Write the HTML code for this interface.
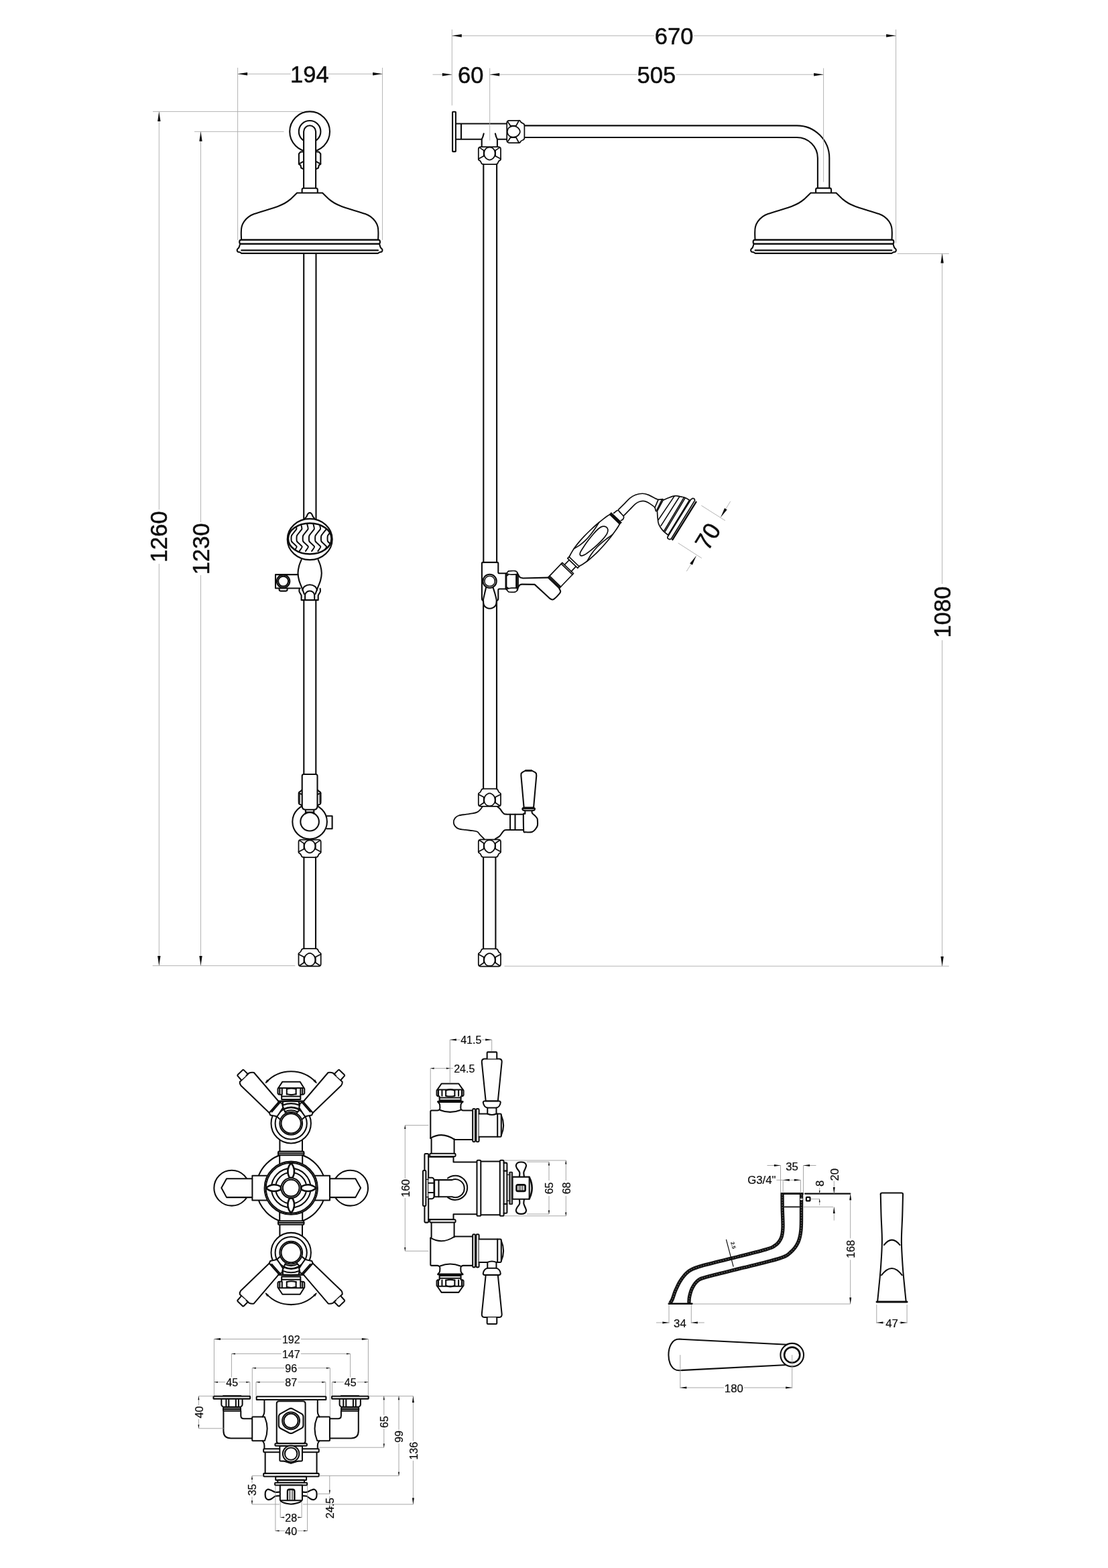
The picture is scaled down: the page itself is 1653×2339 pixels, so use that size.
<!DOCTYPE html>
<html lang="en">
<head>
<meta charset="utf-8">
<title>Shower set technical drawing</title>
<style>
html,body{margin:0;padding:0;background:#fff;}
body{width:1653px;height:2339px;overflow:hidden;}
svg{display:block;}

.k{fill:none;stroke:#0d0d0d;stroke-width:2.1;stroke-linejoin:round;stroke-linecap:round;}
.kw{fill:#fff;stroke:#0d0d0d;stroke-width:2.1;stroke-linejoin:round;stroke-linecap:round;}
.s{fill:none;stroke:#0d0d0d;stroke-width:2.05;stroke-linejoin:round;stroke-linecap:round;}
.sw{fill:#fff;stroke:#0d0d0d;stroke-width:2.05;stroke-linejoin:round;stroke-linecap:round;}
.n{fill:none;stroke:#0d0d0d;stroke-width:1.1;stroke-linejoin:round;stroke-linecap:round;}
.t{fill:none;stroke:#ababab;stroke-width:0.9;}
.u{fill:none;stroke:#909090;stroke-width:0.8;}
.a{fill:#0d0d0d;stroke:none;}
.w{fill:#fff;stroke:none;}
.hs .k,.hs .kw{stroke-width:1.7}
.nt .k,.nt .kw{stroke-width:1.75}
.vb{stroke-width:1.8 !important}
text{font-family:"Liberation Sans",sans-serif;fill:#0d0d0d;}
svg{filter:grayscale(1);}

</style>
</head>
<body>
<svg width="1653" height="2339" viewBox="0 0 1653 2339">
<circle class="kw" cx="462.1" cy="196.3" r="29.9"/>
<circle class="kw" cx="462.1" cy="196.3" r="16.3"/>
<path class="k" d="M453.1 226.3 L448.3 226.6 L445.9 229.5 L445.9 244.6 L448.4 246.6 L449.3 250.5 L453.1 252.4"/>
<path class="k" d="M471.1 226.3 L475.9 226.6 L478.3 229.5 L478.3 244.6 L475.8 246.6 L474.9 250.5 L471.1 252.4"/>
<path class="k" d="M445.9 244.6 L453.1 240.6"/>
<path class="k" d="M478.3 244.6 L471.1 240.6"/>
<path class="kw" d="M453.1 280.6 L453.1 196.3 A9 9 0 0 1 471.1 196.3 L471.1 280.6"/>
<path class="kw" d="M450.6 287.6 L450.6 283 Q450.6 280.8 453 280.8 L471.2 280.8 Q473.8 280.8 473.8 283 L473.8 287.6"/>
<path class="kw" d="M360.1 357.9 C360.05 356.1 359.72 350.37 359.8 347.1 C359.88 343.83 359.87 341.1 360.6 338.3 C361.33 335.5 362.4 332.83 364.2 330.3 C366 327.77 368.87 324.97 371.4 323.1 C373.93 321.23 374.45 320.92 379.4 319.1 C384.35 317.28 395.08 314.15 401.1 312.2 C407.12 310.25 411.5 308.93 415.5 307.4 C419.5 305.87 422.17 304.67 425.1 303 C428.03 301.33 430.1 299.93 433.1 297.4 C436.1 294.87 441.43 289.4 443.1 287.8 L481.1 287.8 L481.1 287.8 C482.77 289.4 488.1 294.87 491.1 297.4 C494.1 299.93 496.17 301.33 499.1 303 C502.03 304.67 504.7 305.87 508.7 307.4 C512.7 308.93 517.08 310.25 523.1 312.2 C529.12 314.15 539.85 317.28 544.8 319.1 C549.75 320.92 550.27 321.23 552.8 323.1 C555.33 324.97 558.2 327.77 560 330.3 C561.8 332.83 562.87 335.5 563.6 338.3 C564.33 341.1 564.32 343.83 564.4 347.1 C564.48 350.37 564.15 356.1 564.1 357.9Z"/>
<path class="kw" d="M359.7 357.9 L564.5 357.9 Q567 357.9 567 360.9 Q567 363.9 564.5 363.9 L359.7 363.9 Q357.2 363.9 357.2 360.9 Q357.2 357.9 359.7 357.9Z"/>
<path class="kw" d="M358.2 363.9 C357.9 364.78 357.12 367.82 356.4 369.2 C355.68 370.58 354.2 371.17 353.9 372.2 C353.6 373.23 353.92 374.7 354.6 375.4 C355.28 376.1 357.03 375.98 358 376.4 C358.97 376.82 360 377.65 360.4 377.9 L563.8 377.9 L563.8 377.9 C564.2 377.65 565.23 376.82 566.2 376.4 C567.17 375.98 568.92 376.1 569.6 375.4 C570.28 374.7 570.6 373.23 570.3 372.2 C570 371.17 568.52 370.58 567.8 369.2 C567.08 367.82 566.3 364.78 566 363.9Z"/>
<path class="k" d="M360.2 373.4 L564 373.4"/>
<path class="k" d="M453.2 378.4 L453.2 775 M471.5 378.4 L471.5 775"/>
<path class="t" d="M354.6 101 L354.6 358"/>
<path class="t" d="M570.6 101 L570.6 358"/>
<path class="t" d="M354.6 110.3 L433.6 110.3"/>
<path class="t" d="M490 110.3 L570.6 110.3"/>
<path class="a" d="M354.6 110.3 L369.1 108.1 L369.1 112.5Z"/>
<path class="a" d="M570.6 110.3 L556.1 112.5 L556.1 108.1Z"/>
<text font-size="35.58" text-anchor="middle" stroke="#0d0d0d" stroke-width="0.5" transform="translate(461.9 110.4) scale(0.97 1)" x="0" y="12.84">194</text>
<path class="t" d="M228 166.4 L451.5 166.4"/>
<path class="t" d="M290 196.3 L423.5 196.3"/>
<path class="t" d="M237.3 166.4 L237.3 760"/>
<path class="t" d="M237.3 841 L237.3 1440.6"/>
<path class="t" d="M299.5 196.3 L299.5 779"/>
<path class="t" d="M299.5 858 L299.5 1440.6"/>
<path class="a" d="M237.3 166.4 L239.5 180.9 L235.1 180.9Z"/>
<path class="a" d="M237.3 1440.6 L235.1 1426.1 L239.5 1426.1Z"/>
<path class="a" d="M299.5 196.3 L301.7 210.8 L297.3 210.8Z"/>
<path class="a" d="M299.5 1440.6 L297.3 1426.1 L301.7 1426.1Z"/>
<path class="t" d="M227.7 1440.6 L440.3 1440.6"/>
<text font-size="35.58" text-anchor="middle" stroke="#0d0d0d" stroke-width="0.5" transform="translate(236 800.7) rotate(-90) scale(0.97 1)" x="0" y="12.84">1260</text>
<text font-size="35.58" text-anchor="middle" stroke="#0d0d0d" stroke-width="0.5" transform="translate(299.6 818.8) rotate(-90) scale(0.97 1)" x="0" y="12.84">1230</text>
<rect class="kw" x="675.1" y="166.8" width="4.8" height="59.3" rx="0.8"/>
<path class="k" d="M680.7 184.5 L755.7 184.5 M680.7 207.8 L718.7 207.8 M741.9 207.8 L755.7 207.8 M688 184.5 L688 207.8"/>
<path class="k" d="M721.7 199.2 Q720.6 204.5 718.7 207.8 L718.7 219 M738.9 199.2 Q740 204.5 741.9 207.8 L741.9 219"/>
<g class="nt" transform="translate(730.4 219) rotate(0)">
<path class="kw" d="M-13.6 0 L13.6 0 Q16.6 0.4 16.6 3.4 L16.6 17.6 Q17 19.6 15 20.4 Q13.4 21 12.6 23.6 Q11.8 26.2 9.1 26.2 L-9.1 26.2 Q-11.8 26.2 -12.6 23.6 Q-13.4 21 -15 20.4 Q-17 19.6 -16.6 17.6 L-16.6 3.4 Q-16.6 0.4 -13.6 0Z"/>
<path class="k" d="M-8.7 5.4 L-8.7 13.8 M8.7 5.4 L8.7 13.8"/>
<path class="k" d="M-14.6 1.4 L-8.7 5.4 M14.6 1.4 L8.7 5.4"/>
<path class="k" d="M-16.6 18 L-8.7 13.8 M16.6 18 L8.7 13.8"/>
<path class="k" d="M0 0.6 C5 0.6 8.2 4.4 8.2 9.4 C8.2 14.6 5.8 17.6 2 19.2 Q0 19.9 -2 19.2 C-5.8 17.6 -8.2 14.6 -8.2 9.4 C-8.2 4.4 -5 0.6 0 0.6Z"/>
</g>
<g class="nt" transform="translate(756.2 196.4) rotate(-90)">
<path class="kw" d="M-13.6 0 L13.6 0 Q16.6 0.4 16.6 3.4 L16.6 17.6 Q17 19.6 15 20.4 Q13.4 21 12.6 23.6 Q11.8 26.2 9.1 26.2 L-9.1 26.2 Q-11.8 26.2 -12.6 23.6 Q-13.4 21 -15 20.4 Q-17 19.6 -16.6 17.6 L-16.6 3.4 Q-16.6 0.4 -13.6 0Z"/>
<path class="k" d="M-8.7 5.4 L-8.7 13.8 M8.7 5.4 L8.7 13.8"/>
<path class="k" d="M-14.6 1.4 L-8.7 5.4 M14.6 1.4 L8.7 5.4"/>
<path class="k" d="M-16.6 18 L-8.7 13.8 M16.6 18 L8.7 13.8"/>
<path class="k" d="M0 0.6 C5 0.6 8.2 4.4 8.2 9.4 C8.2 14.6 5.8 17.6 2 19.2 Q0 19.9 -2 19.2 C-5.8 17.6 -8.2 14.6 -8.2 9.4 C-8.2 4.4 -5 0.6 0 0.6Z"/>
</g>
<path class="k" d="M782.9 187.4 L1188.9 187.4 A48.4 48.4 0 0 1 1237.3 235.8 L1237.3 280.3 M782.9 205 L1188.9 205 A31 30.8 0 0 1 1219.9 235.8 L1219.9 280.3"/>
<path class="kw" d="M1217.1 287.6 L1217.1 283 Q1217.1 280.6 1219.5 280.6 L1237.7 280.6 Q1240.1 280.6 1240.1 283 L1240.1 287.6"/>
<path class="kw" d="M1126.5 357.9 C1126.45 356.1 1126.12 350.37 1126.2 347.1 C1126.28 343.83 1126.27 341.1 1127 338.3 C1127.73 335.5 1128.8 332.83 1130.6 330.3 C1132.4 327.77 1135.27 324.97 1137.8 323.1 C1140.33 321.23 1140.85 320.92 1145.8 319.1 C1150.75 317.28 1161.48 314.15 1167.5 312.2 C1173.52 310.25 1177.9 308.93 1181.9 307.4 C1185.9 305.87 1188.57 304.67 1191.5 303 C1194.43 301.33 1196.5 299.93 1199.5 297.4 C1202.5 294.87 1207.83 289.4 1209.5 287.8 L1247.5 287.8 L1247.5 287.8 C1249.17 289.4 1254.5 294.87 1257.5 297.4 C1260.5 299.93 1262.57 301.33 1265.5 303 C1268.43 304.67 1271.1 305.87 1275.1 307.4 C1279.1 308.93 1283.48 310.25 1289.5 312.2 C1295.52 314.15 1306.25 317.28 1311.2 319.1 C1316.15 320.92 1316.67 321.23 1319.2 323.1 C1321.73 324.97 1324.6 327.77 1326.4 330.3 C1328.2 332.83 1329.27 335.5 1330 338.3 C1330.73 341.1 1330.72 343.83 1330.8 347.1 C1330.88 350.37 1330.55 356.1 1330.5 357.9Z"/>
<path class="kw" d="M1126.1 357.9 L1330.9 357.9 Q1333.4 357.9 1333.4 360.9 Q1333.4 363.9 1330.9 363.9 L1126.1 363.9 Q1123.6 363.9 1123.6 360.9 Q1123.6 357.9 1126.1 357.9Z"/>
<path class="kw" d="M1124.6 363.9 C1124.3 364.78 1123.52 367.82 1122.8 369.2 C1122.08 370.58 1120.6 371.17 1120.3 372.2 C1120 373.23 1120.32 374.7 1121 375.4 C1121.68 376.1 1123.43 375.98 1124.4 376.4 C1125.37 376.82 1126.4 377.65 1126.8 377.9 L1330.2 377.9 L1330.2 377.9 C1330.6 377.65 1331.63 376.82 1332.6 376.4 C1333.57 375.98 1335.32 376.1 1336 375.4 C1336.68 374.7 1337 373.23 1336.7 372.2 C1336.4 371.17 1334.92 370.58 1334.2 369.2 C1333.48 367.82 1332.7 364.78 1332.4 363.9Z"/>
<path class="k" d="M1126.6 373.4 L1330.4 373.4"/>
<path class="k" d="M721.3 245 L721.3 838.8 M741.1 245 L741.1 838.8"/>
<path class="t" d="M674.3 44 L674.3 157.3"/>
<path class="t" d="M1336.6 44 L1336.6 362.5"/>
<path class="t" d="M674.3 53.3 L976 53.3"/>
<path class="t" d="M1035 53.3 L1336.6 53.3"/>
<path class="a" d="M674.3 53.3 L688.8 51.1 L688.8 55.5Z"/>
<path class="a" d="M1336.6 53.3 L1322.1 55.5 L1322.1 51.1Z"/>
<text font-size="35.58" text-anchor="middle" stroke="#0d0d0d" stroke-width="0.5" transform="translate(1005.6 53.4) scale(0.97 1)" x="0" y="12.84">670</text>
<path class="t" d="M730.7 101.7 L730.7 209.5"/>
<path class="t" d="M1228.6 101.7 L1228.6 271.5"/>
<path class="t" d="M645.5 111.2 L674.3 111.2"/>
<path class="t" d="M730.7 111.2 L950 111.2"/>
<path class="t" d="M1008.6 111.2 L1228.6 111.2"/>
<path class="a" d="M674.3 111.2 L659.8 113.4 L659.8 109Z"/>
<path class="a" d="M730.7 111.2 L745.2 109 L745.2 113.4Z"/>
<path class="a" d="M1228.6 111.2 L1214.1 113.4 L1214.1 109Z"/>
<text font-size="35.58" text-anchor="middle" stroke="#0d0d0d" stroke-width="0.5" transform="translate(702.2 111.3) scale(0.97 1)" x="0" y="12.84">60</text>
<text font-size="35.58" text-anchor="middle" stroke="#0d0d0d" stroke-width="0.5" transform="translate(979.3 111.3) scale(0.97 1)" x="0" y="12.84">505</text>
<path class="t" d="M1338.8 378.4 L1415.8 378.4"/>
<path class="t" d="M752.5 1441.2 L1415.8 1441.2"/>
<path class="t" d="M1405.6 378 L1405.6 871"/>
<path class="t" d="M1405.6 955 L1405.6 1441.2"/>
<path class="a" d="M1405.6 378 L1407.8 392.5 L1403.4 392.5Z"/>
<path class="a" d="M1405.6 1441.2 L1403.4 1426.7 L1407.8 1426.7Z"/>
<text font-size="35.58" text-anchor="middle" stroke="#0d0d0d" stroke-width="0.5" transform="translate(1405.4 913) rotate(-90) scale(0.97 1)" x="0" y="12.84">1080</text>
<path class="kw" d="M454.91 773.39 C455.27 772.99 456.31 772.15 457.07 770.99 C457.84 769.82 458.64 767.43 459.48 766.42 C460.32 765.41 461.24 764.9 462.12 764.9 C463 764.9 463.94 765.41 464.76 766.42 C465.59 767.43 466.37 769.85 467.09 770.99 C467.81 772.12 468.76 772.85 469.09 773.23"/>
<ellipse class="kw" cx="462.2" cy="804.5" rx="33.5" ry="30.6"/>
<clipPath id="hc"><ellipse cx="462.2" cy="803.5" rx="32.4" ry="23"/></clipPath>
<g clip-path="url(#hc)">
<path class="k" d="M440.9 781.64 C441 782.18 442.78 787.81 442.34 789.09 C441.9 790.36 435.43 797.67 434.89 799.02 C434.34 800.37 434.32 806.3 434.89 807.51 C435.46 808.72 442.38 814.45 442.66 815.52 C442.93 816.59 438.95 821.6 438.65 822.09" style="stroke-width:2"/>
<path class="k" d="M448.9 781.64 C449.01 782.18 450.79 787.81 450.35 789.09 C449.91 790.36 443.44 797.67 442.9 799.02 C442.35 800.37 442.33 806.3 442.9 807.51 C443.47 808.72 450.39 814.45 450.67 815.52 C450.94 816.59 446.96 821.6 446.66 822.09" style="stroke-width:2"/>
<path class="k" d="M458.12 781.64 C458.22 782.18 460 787.81 459.56 789.09 C459.12 790.36 452.65 797.67 452.11 799.02 C451.56 800.37 451.54 806.3 452.11 807.51 C452.68 808.72 459.6 814.45 459.88 815.52 C460.15 816.59 456.17 821.6 455.87 822.09" style="stroke-width:2"/>
<path class="k" d="M467.33 781.64 C467.43 782.18 469.21 787.81 468.77 789.09 C468.33 790.36 461.87 797.67 461.32 799.02 C460.77 800.37 460.75 806.3 461.32 807.51 C461.89 808.72 468.81 814.45 469.09 815.52 C469.36 816.59 465.38 821.6 465.08 822.09" style="stroke-width:2"/>
<path class="k" d="M476.54 781.64 C476.64 782.18 478.42 787.81 477.98 789.09 C477.54 790.36 471.08 797.67 470.53 799.02 C469.98 800.37 469.96 806.3 470.53 807.51 C471.1 808.72 478.02 814.45 478.3 815.52 C478.58 816.59 474.59 821.6 474.3 822.09" style="stroke-width:2"/>
<path class="k" d="M485.35 781.64 C485.45 782.18 487.23 787.81 486.79 789.09 C486.35 790.36 479.89 797.67 479.34 799.02 C478.79 800.37 478.77 806.3 479.34 807.51 C479.91 808.72 486.83 814.45 487.11 815.52 C487.39 816.59 483.4 821.6 483.11 822.09" style="stroke-width:2"/>
<path class="k" d="M494.96 781.64 C495.07 782.18 496.84 787.81 496.4 789.09 C495.96 790.36 489.5 797.67 488.95 799.02 C488.41 800.37 488.38 806.3 488.95 807.51 C489.52 808.72 496.45 814.45 496.72 815.52 C497 816.59 493.01 821.6 492.72 822.09" style="stroke-width:2"/>
</g>
<ellipse class="k" cx="462.2" cy="803.5" rx="32.4" ry="23" style="stroke-width:2.7"/>
<path class="k" d="M449.63 835.06 C449.06 836.5 447.12 840.4 446.26 843.71 C445.41 847.02 444.5 851.19 444.5 854.93 C444.5 858.66 445.3 862.54 446.26 866.14 C447.22 869.74 449 873.21 450.27 876.55 C451.53 879.89 453.27 884.56 453.87 886.16 M474.67 835.06 C475.24 836.5 477.18 840.4 478.04 843.71 C478.89 847.02 479.8 851.19 479.8 854.93 C479.8 858.66 479 862.54 478.04 866.14 C477.08 869.74 475.3 873.21 474.03 876.55 C472.77 879.89 471.03 884.56 470.43 886.16"/>
<path class="k" d="M444.5 857.17 L411.02 857.17 L411.02 877.51 L447.86 877.51"/>
<circle class="k" cx="422.6" cy="867.1" r="9.7"/>
<circle class="k" cx="422.6" cy="867.1" r="7.5"/>
<path class="k" d="M416.6 878 L416.6 879.6 Q416.6 881.6 418.6 881.6 L426.6 881.6 Q428.6 881.6 428.6 879.6 L428.6 878"/>
<path class="k" d="M446.66 878.15 C446.62 878.82 446.19 880.96 446.42 882.16 C446.65 883.36 447.49 884.36 448.02 885.36 C448.56 886.36 449.36 887.7 449.63 888.17 L449.63 895.13 L474.67 895.13 L474.67 888.17 L474.67 888.17 C474.94 887.7 475.74 886.36 476.28 885.36 C476.81 884.36 477.65 883.36 477.88 882.16 C478.11 880.96 477.68 878.82 477.64 878.15"/>
<path class="k" d="M451.07 880.16 C451.6 879.29 452.43 876.26 454.27 874.95 C456.11 873.64 459.5 872.31 462.12 872.31 C464.74 872.31 468.13 873.64 469.97 874.95 C471.81 876.26 472.64 879.29 473.17 880.16"/>
<path class="k" d="M455.1 895 L455.1 888 A7 6.4 0 0 1 469.2 888 L469.2 895"/>
<path class="k" d="M453.3 895.6 L453.3 1154.7 M471.3 895.6 L471.3 1154.7"/>
<rect class="w" x="719" y="839" width="24.2" height="56"/>
<path class="k" d="M721.1 896.2 Q719 895.6 718.9 893 L718.9 840.4 Q718.9 838.9 720.4 838.9 L741.8 838.9 Q743.3 838.9 743.3 840.4 L743.3 853.4 Q743.3 855.2 745.1 855.2 L754.6 855.2 M754.6 878.5 L745.1 878.5 Q743.3 878.5 743.3 880.3 L743.3 893 Q743.2 895.6 741.1 896.2"/>
<path class="kw" d="M725.08 876.59 C724.71 878.16 723.58 882.78 722.87 886.02 C722.15 889.25 720.91 893.13 720.81 896 C720.72 898.86 721.43 901.43 722.31 903.21 C723.19 904.98 724.7 905.89 726.08 906.65 C727.47 907.4 729.1 907.76 730.63 907.76 C732.15 907.76 733.79 907.4 735.23 906.65 C736.67 905.89 738.36 904.98 739.28 903.21 C740.2 901.43 740.9 898.86 740.78 896 C740.66 893.13 739.42 889.25 738.56 886.02 C737.7 882.78 736.11 878.16 735.62 876.59"/>
<circle class="kw" cx="730.6" cy="866.9" r="10.1"/>
<circle class="k" style="stroke-width:1.5" cx="730.6" cy="866.9" r="7.7"/>
<path class="k" d="M721.1 896 L721.1 1177 M741 896 L741 1177"/>
<g class="hs">
<path class="kw" d="M754.36 856.07 C754.62 855.85 756.06 854.62 756.58 854.13 C757.1 853.65 758.02 852.22 758.8 851.91 C759.58 851.61 762.14 851.56 763.24 851.53 C764.34 851.49 767.29 851.43 768.23 851.64 C769.16 851.84 770.73 852.65 771.28 853.3 C771.83 853.95 772.73 855.56 772.94 857.18 C773.15 858.8 773.11 864.83 773.11 867.16 C773.11 869.49 773.15 875.5 772.94 877.14 C772.73 878.79 771.83 880.61 771.28 881.3 C770.73 882 769.16 882.89 768.23 883.13 C767.29 883.37 764.34 883.38 763.24 883.36 C762.14 883.34 759.58 883.3 758.8 882.97 C758.02 882.63 757.1 881.02 756.58 880.47 C756.06 879.92 754.62 878.51 754.36 878.25Z"/>
<path class="k" d="M755.58 856.9 L755.58 877.26M770 856.9 L770 877.26M771.55 854.41 L771.55 880.47"/>
<path class="k" d="M757.14 856.35 C758.15 856.47 761.09 856.98 763.24 857.07 C765.38 857.16 768.87 856.93 770 856.9M757.14 877.98 C758.15 877.84 761.09 877.27 763.24 877.14 C765.38 877.02 768.87 877.24 770 877.26"/>
<circle class="k" cx="756.6" cy="857.3" r="1.3"/>
<circle class="k" cx="756.6" cy="877.6" r="1.3"/>
</g>
<path class="k" d="M773.22 857.18 C773.45 857.64 774.05 859.21 774.6 859.95 C775.16 860.69 775.65 861.2 776.54 861.62 C777.44 862.03 779.41 862.31 779.98 862.45 L817.01 861.66"/>
<path class="k" d="M773.22 876.04 C773.45 875.62 774.05 874.21 774.6 873.54 C775.16 872.88 775.81 872.37 776.54 872.04 C777.28 871.72 778.62 871.67 779.04 871.6 L797.6 871.87 L819.22 891.83 L819.22 891.83 C819.78 892.2 821.35 893.73 822.55 894.05 C823.75 894.36 824.4 895.16 826.43 893.71 C828.47 892.27 833.12 887.34 834.75 885.4 C836.38 883.46 836.25 883.27 836.19 882.07 C836.14 880.87 834.71 878.84 834.42 878.19"/>
<g class="hs">
<path class="kw" d="M817.53 861.67 L838.85 839.44 L855.59 855.5 L834.27 877.73Z"/>
<path class="k" d="M818.64 860.52 L835.38 876.57M819.88 859.22 L836.63 875.27M837.32 841.03 L854.07 857.09"/>
<path class="k" d="M842.17 842.62 L849.23 835.26M852.27 852.31 L859.33 844.95"/>
<path class="kw" d="M846.77 832.91 L848.99 830.6 L864 845 L861.78 847.31Z" style="stroke-linejoin:round"/>
<path class="k" d="M849.13 830.74 C849.78 829.56 851.64 825.98 853.01 823.66 C854.39 821.33 855.63 819.24 857.4 816.77 C859.16 814.31 861.23 811.67 863.6 808.86 C865.97 806.06 868.74 802.94 871.61 799.93 C874.48 796.91 877.68 793.74 880.83 790.75 C883.97 787.76 887.3 784.72 890.47 781.99 C893.65 779.26 897.21 776.44 899.86 774.37 C902.52 772.3 904.71 770.71 906.41 769.56 C908.11 768.42 909.44 767.85 910.05 767.51 M863.85 844.86 C865.01 844.16 868.5 842.16 870.77 840.68 C873.04 839.21 875.07 837.88 877.46 836.02 C879.85 834.15 882.4 831.97 885.1 829.49 C887.81 827 890.8 824.1 893.7 821.11 C896.59 818.11 899.63 814.78 902.48 811.51 C905.33 808.25 908.23 804.79 910.83 801.51 C913.42 798.22 916.09 794.55 918.05 791.81 C920.01 789.07 921.51 786.81 922.58 785.07 C923.65 783.32 924.16 781.97 924.48 781.35"/>
<path class="k" d="M856.23 818.42 C857.72 817.54 862.28 815.22 865.17 813.15 C868.06 811.07 870.85 808.66 873.58 805.97 C876.3 803.27 879.1 799.95 881.52 796.96 C883.95 793.97 886.11 790.97 888.13 788.05 C890.14 785.13 892.69 780.88 893.6 779.45"/>
<path class="k" d="M875.86 837.25 C876.91 835.48 879.61 830.23 882.15 826.65 C884.68 823.07 888.21 818.84 891.04 815.79 C893.88 812.73 896.6 810.49 899.16 808.33 C901.72 806.17 903.96 804.62 906.4 802.8 C908.84 800.99 912.55 798.31 913.78 797.42"/>
<path class="k" d="M866.63 828.96 C865.45 828.51 864.87 826.8 865.55 824.59 C866.24 822.39 868.71 818.85 870.74 815.72 C872.77 812.59 875.32 809.02 877.75 805.81 C880.18 802.6 882.91 799.22 885.33 796.46 C887.75 793.69 890.08 791.08 892.25 789.24 C894.43 787.4 896.42 785.98 898.4 785.43 C900.38 784.88 902.72 785.16 904.14 785.95 C905.56 786.73 906.7 788.41 906.91 790.13 C907.13 791.86 906.67 793.95 905.42 796.32 C904.16 798.69 901.78 801.6 899.36 804.37 C896.94 807.13 893.85 810.16 890.91 812.89 C887.97 815.61 884.78 818.32 881.74 820.72 C878.7 823.12 875.2 825.9 872.68 827.27 C870.16 828.65 867.82 829.4 866.63 828.96Z"/>
<path class="k" d="M909.62 767.37 L924.63 781.77M910.73 766.22 L925.74 780.62M911.83 765.06 L926.85 779.46"/>
<path class="k" d="M915.71 765.47 C916.08 765.16 917.79 763.66 918.48 763.13 C919.18 762.6 920.39 761.76 920.95 761.53 C921.51 761.3 922.26 761.19 922.67 761.4 C923.08 761.62 923.44 762.45 924.03 763.13 C924.62 763.81 926.29 765.62 927.11 766.52 C927.93 767.42 929.73 769.21 930.19 769.91 C930.65 770.61 930.64 771.18 930.56 771.76 C930.48 772.33 929.85 773.71 929.57 774.22 C929.3 774.73 928.88 775.31 928.47 775.58 C928.06 775.84 926.76 776.11 926.49 776.19"/>
<path class="k" d="M922.67 760.17 C924.03 758.84 927.91 755.04 930.81 752.16 C933.7 749.29 937.17 745.24 940.05 742.92 C942.92 740.6 944.98 739.35 948.06 738.24 C951.14 737.13 955.25 736.25 958.53 736.27 C961.82 736.29 964.7 737.19 967.78 738.36 C970.86 739.53 974.64 742.12 977.02 743.29 C979.4 744.46 981.23 745.04 982.07 745.39"/>
<path class="k" d="M930.99 768.8 C932.5 767.26 937.2 762.43 940.05 759.56 C942.89 756.68 945.59 753.47 948.06 751.55 C950.52 749.63 952.58 748.69 954.84 748.03 C957.1 747.38 959.46 747.24 961.61 747.6 C963.77 747.96 965.72 749.06 967.78 750.19 C969.83 751.32 972.27 753.13 973.94 754.38 C975.6 755.63 977.12 757.15 977.76 757.71"/>
<path class="kw" d="M982.07 745.39 L988.72 744.65 L990.7 746.62 L981.33 762.51 L978.56 762.51 L977.02 756.97Z"/>
<path class="k" d="M987.49 745.39 L979.98 760.97"/>
</g>
<path class="kw" d="M989.18 746.19 C990.49 745.63 994.68 743.79 997.04 742.83 C999.39 741.87 1001.4 740.97 1003.32 740.43 C1005.24 739.88 1006.46 739.5 1008.56 739.59 C1010.65 739.67 1013.62 740.46 1015.89 740.95 C1018.16 741.44 1019.99 741.65 1022.18 742.52 C1024.36 743.39 1027.85 745.58 1028.98 746.19 L997.04 798.35 L997.04 798.35 C995.9 797.42 992.15 794.68 990.23 792.8 C988.31 790.91 986.82 789.04 985.51 787.04 C984.21 785.03 983.11 783.2 982.37 780.75 C981.64 778.31 981.43 775.43 981.12 772.37 C980.8 769.32 980.59 764.08 980.49 762.42Z" style="stroke-width:1.7"/>
<path class="k" d="M1006.25 739.9 L982.16 775.51" style="stroke-width:1.6"/>
<path class="k" d="M1013.8 740.74 L986.04 784.42" style="stroke-width:1.6"/>
<path class="k" d="M1020.29 742.21 L990.54 792.27" style="stroke-width:1.6"/>
<path class="k" d="M1022.18 742.83 L992.01 793.32" style="stroke-width:1.6"/>
<path class="k" d="M1028.46 746.19 L997.04 797.72" style="stroke-width:1.6"/>
<path class="kw" d="M1030.76 744.93 L1033.7 743.25 L1036 744.3 L1036.63 746.4 L1001.23 804.01 L998.61 804.63 L996.2 803.27 L995.78 801.18Z" style="stroke-width:1.7"/>
<path class="k" d="M1038.41 748.8 L1003.32 805.05" style="stroke-width:2.4"/>
<path class="t" d="M1046.27 754.04 L1081.88 776.56M1011.7 810.08 L1046.79 832.6"/>
<path class="t" d="M1089.74 747.76 L1075.28 771.53M1038.62 829.25 L1024.27 852.19"/>
<path class="a" d="M1075.28 771.53 L1080.96 758.01 L1084.71 760.3Z"/>
<path class="a" d="M1038.62 829.25 L1032.94 842.77 L1029.19 840.48Z"/>
<text font-size="35.58" text-anchor="middle" stroke="#0d0d0d" stroke-width="0.5" transform="translate(1055.48 799.82) rotate(-58.3) scale(0.97 1)" x="0" y="12.84">70</text>
<path class="k" d="M450.6 1178.21 C450.34 1178.45 448.46 1180.17 447.98 1180.63 C447.51 1181.08 446.05 1181.06 445.83 1182.78 C445.61 1184.5 445.65 1196.09 445.83 1197.81 C446.01 1199.52 447.18 1199.6 447.66 1199.96 C448.14 1200.32 450.3 1201.25 450.6 1201.4"/>
<path class="k" d="M473.6 1178.21 C473.86 1178.45 475.74 1180.17 476.22 1180.63 C476.69 1181.08 478.15 1181.06 478.37 1182.78 C478.59 1184.5 478.55 1196.09 478.37 1197.81 C478.19 1199.52 477.02 1199.6 476.54 1199.96 C476.06 1200.32 473.9 1201.25 473.6 1201.4"/>
<path class="k" d="M445.83 1183.11 L450.6 1185.07M478.37 1183.11 L473.6 1185.07"/>
<path class="k" d="M447.14 1185.07 L447.14 1197.48M477.06 1185.07 L477.06 1197.48" style="stroke-width:1.2"/>
<circle class="kw" cx="462.1" cy="1225.7" r="25.8"/>
<circle class="kw" cx="462.1" cy="1225.7" r="13.8"/>
<path class="k" d="M455.9 1207 L455.9 1213.8 M468.3 1207 L468.3 1213.8 M455.9 1211.6 L468.3 1211.6"/>
<path class="k" d="M487.6 1217.3 L495.6 1217.3 L495.6 1236.2 L487.6 1236.2"/>
<path class="kw" d="M450.7 1157.5 Q450.7 1155 453.2 1155 L471 1155 Q473.5 1155 473.5 1157.5 L473.5 1202.5 Q473.5 1207.8 468.2 1207.8 L456 1207.8 Q450.7 1207.8 450.7 1202.5Z"/>
<g class="nt" transform="translate(462.1 1252.7) rotate(0)">
<path class="kw" d="M-13.6 0 L13.6 0 Q16.6 0.4 16.6 3.4 L16.6 17.6 Q17 19.6 15 20.4 Q13.4 21 12.6 23.6 Q11.8 26.2 9.1 26.2 L-9.1 26.2 Q-11.8 26.2 -12.6 23.6 Q-13.4 21 -15 20.4 Q-17 19.6 -16.6 17.6 L-16.6 3.4 Q-16.6 0.4 -13.6 0Z"/>
<path class="k" d="M-8.7 5.4 L-8.7 13.8 M8.7 5.4 L8.7 13.8"/>
<path class="k" d="M-14.6 1.4 L-8.7 5.4 M14.6 1.4 L8.7 5.4"/>
<path class="k" d="M-16.6 18 L-8.7 13.8 M16.6 18 L8.7 13.8"/>
<path class="k" d="M0 0.6 C5 0.6 8.2 4.4 8.2 9.4 C8.2 14.6 5.8 17.6 2 19.2 Q0 19.9 -2 19.2 C-5.8 17.6 -8.2 14.6 -8.2 9.4 C-8.2 4.4 -5 0.6 0 0.6Z"/>
</g>
<path class="k" d="M453.4 1278.6 L453.4 1415.6 M471 1278.6 L471 1415.6"/>
<g class="nt" transform="translate(462.1 1441.4) rotate(0) scale(1 -1)">
<path class="kw" d="M-13.6 0 L13.6 0 Q16.6 0.4 16.6 3.4 L16.6 17.6 Q17 19.6 15 20.4 Q13.4 21 12.6 23.6 Q11.8 26.2 9.1 26.2 L-9.1 26.2 Q-11.8 26.2 -12.6 23.6 Q-13.4 21 -15 20.4 Q-17 19.6 -16.6 17.6 L-16.6 3.4 Q-16.6 0.4 -13.6 0Z"/>
<path class="k" d="M-8.7 5.4 L-8.7 13.8 M8.7 5.4 L8.7 13.8"/>
<path class="k" d="M-14.6 1.4 L-8.7 5.4 M14.6 1.4 L8.7 5.4"/>
<path class="k" d="M-16.6 18 L-8.7 13.8 M16.6 18 L8.7 13.8"/>
<path class="k" d="M0 0.6 C5 0.6 8.2 4.4 8.2 9.4 C8.2 14.6 5.8 17.6 2 19.2 Q0 19.9 -2 19.2 C-5.8 17.6 -8.2 14.6 -8.2 9.4 C-8.2 4.4 -5 0.6 0 0.6Z"/>
</g>
<g class="nt" transform="translate(730.4 1202.9) rotate(0) scale(1 -1)">
<path class="kw" d="M-13.6 0 L13.6 0 Q16.6 0.4 16.6 3.4 L16.6 17.6 Q17 19.6 15 20.4 Q13.4 21 12.6 23.6 Q11.8 26.2 9.1 26.2 L-9.1 26.2 Q-11.8 26.2 -12.6 23.6 Q-13.4 21 -15 20.4 Q-17 19.6 -16.6 17.6 L-16.6 3.4 Q-16.6 0.4 -13.6 0Z"/>
<path class="k" d="M-8.7 5.4 L-8.7 13.8 M8.7 5.4 L8.7 13.8"/>
<path class="k" d="M-14.6 1.4 L-8.7 5.4 M14.6 1.4 L8.7 5.4"/>
<path class="k" d="M-16.6 18 L-8.7 13.8 M16.6 18 L8.7 13.8"/>
<path class="k" d="M0 0.6 C5 0.6 8.2 4.4 8.2 9.4 C8.2 14.6 5.8 17.6 2 19.2 Q0 19.9 -2 19.2 C-5.8 17.6 -8.2 14.6 -8.2 9.4 C-8.2 4.4 -5 0.6 0 0.6Z"/>
</g>
<path class="kw vb" d="M719.53 1203.59 C719.04 1204.24 717.4 1206.77 716.29 1207.93 C715.18 1209.09 713.87 1210.52 712.13 1211.35 C710.4 1212.18 707.38 1212.95 704.74 1213.48 C702.11 1214 697.62 1214.4 694.57 1214.86 C691.52 1215.32 686.77 1215.69 684.41 1216.52 C682.05 1217.36 680.01 1218.92 678.86 1220.41 C677.71 1221.89 676.74 1224.61 676.74 1226.41 C676.74 1228.22 677.71 1230.92 678.86 1232.42 C680.01 1233.92 682.05 1235.56 684.41 1236.4 C686.77 1237.23 691.52 1237.55 694.57 1237.97 C697.62 1238.38 702.11 1238.75 704.74 1239.17 C707.38 1239.58 710.4 1239.81 712.13 1240.74 C713.87 1241.67 714.77 1243.77 716.29 1245.36 C717.82 1246.95 721.4 1250.47 722.3 1251.37"/>
<path class="k" d="M742.45 1203.59 C743.03 1204.1 745.26 1205.8 746.33 1207.01 C747.4 1208.21 748.66 1210.55 749.57 1211.63 C750.47 1212.71 751.37 1213.76 752.34 1214.21 C753.31 1214.67 755.48 1214.61 756.04 1214.68 L780.6 1214.7 M780.6 1238 L756.04 1237.97 L756.04 1237.97 C755.48 1238.08 753.31 1238.15 752.34 1238.71 C751.37 1239.26 750.61 1240.39 749.57 1241.66 C748.53 1242.94 747 1245.75 745.41 1247.21 C743.81 1248.66 739.91 1250.74 738.94 1251.37"/>
<path class="k" d="M761.12 1214.68 L761.12 1237.97M768.51 1214.68 L768.51 1237.97"/>
<path class="kw" d="M793.47 1208.85 C793.51 1209.27 793.47 1212.23 793.93 1213.01 C794.39 1213.8 797.32 1215.88 798.09 1216.71 C798.85 1217.54 801.21 1219.9 801.6 1221.33 C801.99 1222.76 802.23 1229.51 801.97 1231.04 C801.71 1232.56 799.82 1235.58 799.01 1236.58 C798.21 1237.58 795.41 1240.55 793.93 1241.02 C792.45 1241.49 785.49 1241.41 784.22 1241.29 C782.96 1241.17 781.6 1242.46 781.27 1239.82 C780.93 1237.17 780.69 1217.45 780.9 1214.86 C781.1 1212.27 783.06 1214.54 783.3 1213.94 C783.54 1213.34 783.3 1209.36 783.3 1208.85"/>
<path class="kw" d="M781.64 1204.7 L777.38 1157.1 L777.57 1153.86 L779.6 1151.83 L784.22 1149.43 L793 1149.43 L797.9 1151.83 L799.94 1153.86 L800.3 1157.1 L796.05 1204.7Z"/>
<path class="k" d="M784.41 1149.61 L792.82 1149.61" style="stroke-width:2.8"/>
<path class="kw" d="M781.64 1204.7 C781.4 1204.82 779.84 1205.46 779.6 1205.8 C779.37 1206.15 779.37 1207.29 779.6 1207.65 C779.84 1208.02 779.75 1208.8 781.64 1208.95 C783.52 1209.1 793.9 1209.1 795.78 1208.95 C797.65 1208.8 797.49 1208.02 797.72 1207.65 C797.94 1207.29 797.91 1206.15 797.72 1205.8 C797.52 1205.46 796.25 1204.82 796.05 1204.7Z"/>
<path class="k" d="M780.06 1206.17 L797.35 1206.17"/>
<g class="nt" transform="translate(730.4 1252.4) rotate(0)">
<path class="kw" d="M-13.6 0 L13.6 0 Q16.6 0.4 16.6 3.4 L16.6 17.6 Q17 19.6 15 20.4 Q13.4 21 12.6 23.6 Q11.8 26.2 9.1 26.2 L-9.1 26.2 Q-11.8 26.2 -12.6 23.6 Q-13.4 21 -15 20.4 Q-17 19.6 -16.6 17.6 L-16.6 3.4 Q-16.6 0.4 -13.6 0Z"/>
<path class="k" d="M-8.7 5.4 L-8.7 13.8 M8.7 5.4 L8.7 13.8"/>
<path class="k" d="M-14.6 1.4 L-8.7 5.4 M14.6 1.4 L8.7 5.4"/>
<path class="k" d="M-16.6 18 L-8.7 13.8 M16.6 18 L8.7 13.8"/>
<path class="k" d="M0 0.6 C5 0.6 8.2 4.4 8.2 9.4 C8.2 14.6 5.8 17.6 2 19.2 Q0 19.9 -2 19.2 C-5.8 17.6 -8.2 14.6 -8.2 9.4 C-8.2 4.4 -5 0.6 0 0.6Z"/>
</g>
<path class="k" d="M721.1 1279 L721.1 1415.6 M739.4 1279 L739.4 1415.6"/>
<g class="nt" transform="translate(730.4 1441.6) rotate(0) scale(1 -1)">
<path class="kw" d="M-13.6 0 L13.6 0 Q16.6 0.4 16.6 3.4 L16.6 17.6 Q17 19.6 15 20.4 Q13.4 21 12.6 23.6 Q11.8 26.2 9.1 26.2 L-9.1 26.2 Q-11.8 26.2 -12.6 23.6 Q-13.4 21 -15 20.4 Q-17 19.6 -16.6 17.6 L-16.6 3.4 Q-16.6 0.4 -13.6 0Z"/>
<path class="k" d="M-8.7 5.4 L-8.7 13.8 M8.7 5.4 L8.7 13.8"/>
<path class="k" d="M-14.6 1.4 L-8.7 5.4 M14.6 1.4 L8.7 5.4"/>
<path class="k" d="M-16.6 18 L-8.7 13.8 M16.6 18 L8.7 13.8"/>
<path class="k" d="M0 0.6 C5 0.6 8.2 4.4 8.2 9.4 C8.2 14.6 5.8 17.6 2 19.2 Q0 19.9 -2 19.2 C-5.8 17.6 -8.2 14.6 -8.2 9.4 C-8.2 4.4 -5 0.6 0 0.6Z"/>
</g>
<g id="vfront">
<circle class="sw" cx="434.2" cy="1772.2" r="51.6"/>
<circle class="sw" cx="345.74" cy="1772.2" r="26.4"/>
<path class="sw" d="M376.24 1758.24 L338.03 1758.24 L330.33 1772.1 L338.03 1786.12 L376.24 1786.12"/>
<path class="sw" d="M376.39 1753.77 L402.42 1753.77 L402.42 1790.43 L376.39 1790.43Z"/>
<circle class="sw" cx="522.66" cy="1772.2" r="26.4"/>
<path class="sw" d="M492.16 1758.24 L530.37 1758.24 L538.07 1772.1 L530.37 1786.12 L492.16 1786.12"/>
<path class="sw" d="M492.01 1753.77 L465.98 1753.77 L465.98 1790.43 L492.01 1790.43Z"/>
<rect class="w" x="417.4" y="1690" width="33.6" height="46"/>
<path class="s" d="M417.4 1695 L417.4 1717.6 M451 1695 L451 1717.6"/>
<path class="sw" d="M416.6 1717.6 L451.8 1717.6 Q453.4 1717.6 453.4 1719.2 L453.4 1721.6 Q453.4 1723.2 451.8 1723.2 L416.6 1723.2 Q415 1723.2 415 1721.6 L415 1719.2 Q415 1717.6 416.6 1717.6Z"/>
<path class="s" d="M415 1720.4 L453.4 1720.4"/>
<path class="s" d="M417.2 1723.2 L417.2 1737 M451.2 1723.2 L451.2 1737"/>
<circle class="sw" cx="434.2" cy="1675.8" r="29.7"/>
<circle class="s" cx="434.2" cy="1675.8" r="23.6"/>
<circle class="sw" cx="434.2" cy="1675.8" r="16.9"/>
<circle class="s" cx="434.2" cy="1675.8" r="14.7"/>
<path class="s" d="M421.95 1644.12 L421.95 1650.56 L424.29 1656.41 L426.63 1659.92M445.95 1644.12 L446.77 1650.56 L447.12 1655.24 L443.02 1659.92"/>
<path class="s" d="M423.35 1654.07 Q434.24 1648.8 445.95 1654.07"/>
<path class="s" d="M424.87 1658.52 Q434.24 1654.07 443.61 1658.52"/>
<path class="sw" d="M416.09 1643.53 L420.78 1646.11 L422.18 1652.31 L417.27 1659.92 L413.17 1665.78 L410.24 1664.84 L403.22 1663.44 L401.7 1659.92Z"/>
<path class="s" d="M405.56 1658.52 L417.5 1644.94"/>
<path class="s" d="M413.17 1665.78 L417.5 1669.52"/>
<path class="sw" d="M416.09 1643.53 L401.7 1659.92 L359.32 1619.18 Q357.33 1616.61 357.79 1613.68 L371.37 1600.8 Q375.12 1599.05 378.87 1599.98Z"/>
<path class="sw" d="M367.51 1604.32 L369.85 1602.33 L363.65 1596.12 L362.48 1595.77 L354.63 1603.15 L354.28 1604.67 L359.9 1610.99"/>
<path class="sw" d="M452.31 1643.53 L447.62 1646.11 L446.22 1652.31 L451.13 1659.92 L455.23 1665.78 L458.16 1664.84 L465.18 1663.44 L466.7 1659.92Z"/>
<path class="s" d="M462.84 1658.52 L450.9 1644.94"/>
<path class="s" d="M455.23 1665.78 L450.9 1669.52"/>
<path class="sw" d="M452.31 1643.53 L466.7 1659.92 L509.08 1619.18 Q511.07 1616.61 510.61 1613.68 L497.03 1600.8 Q493.28 1599.05 489.53 1599.98Z"/>
<path class="sw" d="M500.89 1604.32 L498.55 1602.33 L504.75 1596.12 L505.92 1595.77 L513.77 1603.15 L514.12 1604.67 L508.5 1610.99"/>
<path class="sw" d="M421.36 1613.68 L447.7 1613.68 L453.32 1622.7 L454.26 1624.22 L454.26 1630.89 L452.97 1632.41 L448.29 1633 L448.29 1640.02 L420.19 1640.02 L420.19 1633 L415.51 1632.41 L414.46 1630.89 L414.46 1624.22 L415.39 1622.7Z"/>
<path class="s" d="M415.39 1623.05 L453.32 1623.05M420.19 1635.57 L448.29 1635.57M420.78 1623.63 L420.78 1632.41M448.29 1623.63 L448.29 1632.41M427.8 1624.22 L427.8 1632.41M441.62 1624.22 L441.62 1632.41"/>
<path class="s" d="M427.8 1624.57 Q434.59 1622.23 441.62 1624.57 M427.8 1632.06 Q434.59 1634.17 441.62 1632.06"/>
<path class="s" d="M417.27 1624.22 L417.27 1631.83M451.22 1624.22 L451.22 1631.83"/>
<path class="s" d="M415.51 1642.83 Q434.24 1641.9 452.97 1642.83" style="stroke-width:2.6"/>
<path class="s" d="M397.13 1614.5 A50.6 50.6 0 0 1 471.35 1614.5"/>
<path class="a" d="M395.53 1616.4 L398.26 1610.34 L401.02 1612.66Z"/>
<path class="a" d="M472.95 1616.4 L467.46 1612.66 L470.22 1610.34Z"/>
<g transform="translate(0 3544.4) scale(1 -1)">
<rect class="w" x="417.4" y="1690" width="33.6" height="46"/>
<path class="s" d="M417.4 1695 L417.4 1717.6 M451 1695 L451 1717.6"/>
<path class="sw" d="M416.6 1717.6 L451.8 1717.6 Q453.4 1717.6 453.4 1719.2 L453.4 1721.6 Q453.4 1723.2 451.8 1723.2 L416.6 1723.2 Q415 1723.2 415 1721.6 L415 1719.2 Q415 1717.6 416.6 1717.6Z"/>
<path class="s" d="M415 1720.4 L453.4 1720.4"/>
<path class="s" d="M417.2 1723.2 L417.2 1737 M451.2 1723.2 L451.2 1737"/>
<circle class="sw" cx="434.2" cy="1675.8" r="29.7"/>
<circle class="s" cx="434.2" cy="1675.8" r="23.6"/>
<circle class="sw" cx="434.2" cy="1675.8" r="16.9"/>
<circle class="s" cx="434.2" cy="1675.8" r="14.7"/>
<path class="s" d="M421.95 1644.12 L421.95 1650.56 L424.29 1656.41 L426.63 1659.92M445.95 1644.12 L446.77 1650.56 L447.12 1655.24 L443.02 1659.92"/>
<path class="s" d="M423.35 1654.07 Q434.24 1648.8 445.95 1654.07"/>
<path class="s" d="M424.87 1658.52 Q434.24 1654.07 443.61 1658.52"/>
<path class="sw" d="M416.09 1643.53 L420.78 1646.11 L422.18 1652.31 L417.27 1659.92 L413.17 1665.78 L410.24 1664.84 L403.22 1663.44 L401.7 1659.92Z"/>
<path class="s" d="M405.56 1658.52 L417.5 1644.94"/>
<path class="s" d="M413.17 1665.78 L417.5 1669.52"/>
<path class="sw" d="M416.09 1643.53 L401.7 1659.92 L359.32 1619.18 Q357.33 1616.61 357.79 1613.68 L371.37 1600.8 Q375.12 1599.05 378.87 1599.98Z"/>
<path class="sw" d="M367.51 1604.32 L369.85 1602.33 L363.65 1596.12 L362.48 1595.77 L354.63 1603.15 L354.28 1604.67 L359.9 1610.99"/>
<path class="sw" d="M452.31 1643.53 L447.62 1646.11 L446.22 1652.31 L451.13 1659.92 L455.23 1665.78 L458.16 1664.84 L465.18 1663.44 L466.7 1659.92Z"/>
<path class="s" d="M462.84 1658.52 L450.9 1644.94"/>
<path class="s" d="M455.23 1665.78 L450.9 1669.52"/>
<path class="sw" d="M452.31 1643.53 L466.7 1659.92 L509.08 1619.18 Q511.07 1616.61 510.61 1613.68 L497.03 1600.8 Q493.28 1599.05 489.53 1599.98Z"/>
<path class="sw" d="M500.89 1604.32 L498.55 1602.33 L504.75 1596.12 L505.92 1595.77 L513.77 1603.15 L514.12 1604.67 L508.5 1610.99"/>
<path class="sw" d="M421.36 1613.68 L447.7 1613.68 L453.32 1622.7 L454.26 1624.22 L454.26 1630.89 L452.97 1632.41 L448.29 1633 L448.29 1640.02 L420.19 1640.02 L420.19 1633 L415.51 1632.41 L414.46 1630.89 L414.46 1624.22 L415.39 1622.7Z"/>
<path class="s" d="M415.39 1623.05 L453.32 1623.05M420.19 1635.57 L448.29 1635.57M420.78 1623.63 L420.78 1632.41M448.29 1623.63 L448.29 1632.41M427.8 1624.22 L427.8 1632.41M441.62 1624.22 L441.62 1632.41"/>
<path class="s" d="M427.8 1624.57 Q434.59 1622.23 441.62 1624.57 M427.8 1632.06 Q434.59 1634.17 441.62 1632.06"/>
<path class="s" d="M417.27 1624.22 L417.27 1631.83M451.22 1624.22 L451.22 1631.83"/>
<path class="s" d="M415.51 1642.83 Q434.24 1641.9 452.97 1642.83" style="stroke-width:2.6"/>
<path class="s" d="M397.13 1614.5 A50.6 50.6 0 0 1 471.35 1614.5"/>
<path class="a" d="M395.53 1616.4 L398.26 1610.34 L401.02 1612.66Z"/>
<path class="a" d="M472.95 1616.4 L467.46 1612.66 L470.22 1610.34Z"/>
</g>
<circle class="sw" cx="434.2" cy="1772.2" r="39.6"/>
<circle class="s" cx="434.2" cy="1772.2" r="37.5"/>
<circle class="s" cx="434.2" cy="1772.2" r="29.3"/>
<circle class="s" cx="434.2" cy="1772.2" r="23.2"/>
<path class="sw" style="stroke-width:2.5" transform="rotate(0 434.2 1772.2)" d="M434.2 1734.8 C438.8 1740.2 440.8 1748.2 436.6 1756.8 L431.8 1756.8 C427.6 1748.2 429.6 1740.2 434.2 1734.8Z"/>
<path class="sw" style="stroke-width:2.5" transform="rotate(90 434.2 1772.2)" d="M434.2 1734.8 C438.8 1740.2 440.8 1748.2 436.6 1756.8 L431.8 1756.8 C427.6 1748.2 429.6 1740.2 434.2 1734.8Z"/>
<path class="sw" style="stroke-width:2.5" transform="rotate(180 434.2 1772.2)" d="M434.2 1734.8 C438.8 1740.2 440.8 1748.2 436.6 1756.8 L431.8 1756.8 C427.6 1748.2 429.6 1740.2 434.2 1734.8Z"/>
<path class="sw" style="stroke-width:2.5" transform="rotate(270 434.2 1772.2)" d="M434.2 1734.8 C438.8 1740.2 440.8 1748.2 436.6 1756.8 L431.8 1756.8 C427.6 1748.2 429.6 1740.2 434.2 1734.8Z"/>
<circle class="sw" cx="434.2" cy="1772.2" r="14.9"/>
<circle class="s" cx="434.2" cy="1772.2" r="12.4"/>
</g>
<g id="vside">
<path class="s" d="M643.6 1699 L643.6 1720.8 M677.6 1699 L677.6 1720.8"/>
<path class="sw" d="M642.6 1720.8 L678.2 1720.8 Q679.6 1720.8 679.6 1722.2 L679.6 1723.8 Q679.6 1725.2 678.2 1725.2 L642.6 1725.2 Q641.2 1725.2 641.2 1723.8 L641.2 1722.2 Q641.2 1720.8 642.6 1720.8Z"/>
<path class="s" d="M678.16 1699.9 L705.27 1699.9"/>
<path class="s" d="M642.28 1697.73 L642.28 1658.12 Q642.28 1656.52 643.88 1656.52 L652.41 1656.52 Q654.01 1656.52 655.21 1655.47 L655.27 1655.41 Q656.47 1654.35 656.39 1652.76 L656.17 1648.56 Q656.08 1646.96 655.06 1645.73 L653.71 1644.1"/>
<path class="s" d="M705.27 1656.52 L691.1 1656.52 Q689.5 1656.52 688.37 1655.44 L688.37 1655.44 Q687.23 1654.35 687.3 1652.75 L687.46 1648.56 Q687.53 1646.96 688.52 1645.71 L689.79 1644.1"/>
<path class="s" d="M642.28 1697.93 Q659.43 1687.38 678.16 1699.9"/>
<path class="s" d="M656.67 1655.93 Q671.46 1661.85 686.84 1655.93"/>
<path class="sw" d="M658.64 1616.5 L684.27 1616.5 L690.58 1625.37 L691.57 1626.75 L691.57 1633.65 L690.39 1635.03 L687.53 1635.43 L687.53 1642.52 L655.69 1642.52 L655.69 1635.43 L652.73 1635.03 L651.55 1633.65 L651.55 1626.75 L652.53 1625.37Z"/>
<path class="s" d="M652.53 1625.57 L690.58 1625.57M655.69 1637.59 L687.53 1637.59M655.69 1641.34 L687.53 1641.34M654.01 1626.26 L654.01 1634.64M689.01 1626.26 L689.01 1634.64M659.43 1626.26 L659.43 1634.83M684.08 1626.26 L684.08 1634.83M665.15 1626.55 L665.15 1634.83M678.36 1626.55 L678.36 1634.83"/>
<path class="s" d="M665.15 1626.75 Q671.75 1623.3 678.36 1626.75 M665.15 1634.64 Q671.75 1636.41 678.36 1634.64"/>
<path class="s" d="M653.52 1643.51 L690.19 1643.51" style="stroke-width:2.8"/>
<path class="sw" d="M706.6 1654 L707.6 1654 Q709 1654 709 1655.4 L709 1701.8 Q709 1703.2 707.6 1703.2 L706.6 1703.2 Q705.2 1703.2 705.2 1701.8 L705.2 1655.4 Q705.2 1654 706.6 1654Z"/>
<path class="sw" d="M711.8 1654 L713.2 1654 Q714.6 1654 714.6 1655.4 L714.6 1701.8 Q714.6 1703.2 713.2 1703.2 L711.8 1703.2 Q710.4 1703.2 710.4 1701.8 L710.4 1655.4 Q710.4 1654 711.8 1654Z"/>
<path class="sw" d="M714.6 1661.4 L746.4 1661.4 Q747.8 1661.4 747.8 1662.8 L747.8 1694.4 Q747.8 1695.8 746.4 1695.8 L714.6 1695.8"/>
<path class="s" d="M742.2 1661.4 L742.2 1695.8"/>
<path class="s" d="M747.8 1663.6 Q754.4 1678.6 747.8 1693.6"/>
<path class="sw" d="M727.26 1652.87 L727.26 1661.45 Q733.86 1664.41 740.47 1661.45 L740.47 1652.87"/>
<path class="sw" d="M720.75 1644.69 C721.54 1649.42 724.5 1652.38 727.95 1652.58 L739.78 1652.58 C743.23 1652.38 746.18 1649.42 746.77 1644.69 Q746.77 1642.72 744.41 1642.52 L723.12 1642.52 Q720.75 1642.72 720.75 1644.69Z"/>
<path class="sw" d="M724.69 1642.33 L718.78 1584.36 Q718.38 1579.93 722.52 1579.43 L745 1579.43 Q749.14 1579.93 748.65 1584.36 L742.83 1642.33Z"/>
<path class="sw" d="M726.66 1579.24 L726.66 1570.56 Q726.66 1569.38 727.85 1569.38 L740.07 1569.38 Q741.25 1569.38 741.25 1570.56 L741.25 1579.24"/>
<g transform="translate(0 3544.4) scale(1 -1)">
<path class="s" d="M643.6 1699 L643.6 1720.8 M677.6 1699 L677.6 1720.8"/>
<path class="sw" d="M642.6 1720.8 L678.2 1720.8 Q679.6 1720.8 679.6 1722.2 L679.6 1723.8 Q679.6 1725.2 678.2 1725.2 L642.6 1725.2 Q641.2 1725.2 641.2 1723.8 L641.2 1722.2 Q641.2 1720.8 642.6 1720.8Z"/>
<path class="s" d="M678.16 1699.9 L705.27 1699.9"/>
<path class="s" d="M642.28 1697.73 L642.28 1658.12 Q642.28 1656.52 643.88 1656.52 L652.41 1656.52 Q654.01 1656.52 655.21 1655.47 L655.27 1655.41 Q656.47 1654.35 656.39 1652.76 L656.17 1648.56 Q656.08 1646.96 655.06 1645.73 L653.71 1644.1"/>
<path class="s" d="M705.27 1656.52 L691.1 1656.52 Q689.5 1656.52 688.37 1655.44 L688.37 1655.44 Q687.23 1654.35 687.3 1652.75 L687.46 1648.56 Q687.53 1646.96 688.52 1645.71 L689.79 1644.1"/>
<path class="s" d="M642.28 1697.93 Q659.43 1687.38 678.16 1699.9"/>
<path class="s" d="M656.67 1655.93 Q671.46 1661.85 686.84 1655.93"/>
<path class="sw" d="M658.64 1616.5 L684.27 1616.5 L690.58 1625.37 L691.57 1626.75 L691.57 1633.65 L690.39 1635.03 L687.53 1635.43 L687.53 1642.52 L655.69 1642.52 L655.69 1635.43 L652.73 1635.03 L651.55 1633.65 L651.55 1626.75 L652.53 1625.37Z"/>
<path class="s" d="M652.53 1625.57 L690.58 1625.57M655.69 1637.59 L687.53 1637.59M655.69 1641.34 L687.53 1641.34M654.01 1626.26 L654.01 1634.64M689.01 1626.26 L689.01 1634.64M659.43 1626.26 L659.43 1634.83M684.08 1626.26 L684.08 1634.83M665.15 1626.55 L665.15 1634.83M678.36 1626.55 L678.36 1634.83"/>
<path class="s" d="M665.15 1626.75 Q671.75 1623.3 678.36 1626.75 M665.15 1634.64 Q671.75 1636.41 678.36 1634.64"/>
<path class="s" d="M653.52 1643.51 L690.19 1643.51" style="stroke-width:2.8"/>
<path class="sw" d="M706.6 1654 L707.6 1654 Q709 1654 709 1655.4 L709 1701.8 Q709 1703.2 707.6 1703.2 L706.6 1703.2 Q705.2 1703.2 705.2 1701.8 L705.2 1655.4 Q705.2 1654 706.6 1654Z"/>
<path class="sw" d="M711.8 1654 L713.2 1654 Q714.6 1654 714.6 1655.4 L714.6 1701.8 Q714.6 1703.2 713.2 1703.2 L711.8 1703.2 Q710.4 1703.2 710.4 1701.8 L710.4 1655.4 Q710.4 1654 711.8 1654Z"/>
<path class="sw" d="M714.6 1661.4 L746.4 1661.4 Q747.8 1661.4 747.8 1662.8 L747.8 1694.4 Q747.8 1695.8 746.4 1695.8 L714.6 1695.8"/>
<path class="s" d="M742.2 1661.4 L742.2 1695.8"/>
<path class="s" d="M747.8 1663.6 Q754.4 1678.6 747.8 1693.6"/>
<path class="sw" d="M727.26 1652.87 L727.26 1661.45 Q733.86 1664.41 740.47 1661.45 L740.47 1652.87"/>
<path class="sw" d="M720.75 1644.69 C721.54 1649.42 724.5 1652.38 727.95 1652.58 L739.78 1652.58 C743.23 1652.38 746.18 1649.42 746.77 1644.69 Q746.77 1642.72 744.41 1642.52 L723.12 1642.52 Q720.75 1642.72 720.75 1644.69Z"/>
<path class="sw" d="M724.69 1642.33 L718.78 1584.36 Q718.38 1579.93 722.52 1579.43 L745 1579.43 Q749.14 1579.93 748.65 1584.36 L742.83 1642.33Z"/>
<path class="sw" d="M726.66 1579.24 L726.66 1570.56 Q726.66 1569.38 727.85 1569.38 L740.07 1569.38 Q741.25 1569.38 741.25 1570.56 L741.25 1579.24"/>
</g>
<rect class="sw" x="633.4" y="1721" width="5.8" height="102.6" rx="1.4"/>
<rect class="sw" x="631" y="1746" width="4.4" height="53" rx="1.2"/>
<path class="s" d="M639.2 1725.6 L676.5 1725.6 L676.5 1733.4 L711.4 1733.4 M639.2 1819 L676.5 1819 L676.5 1811.2 L711.4 1811.2"/>
<path class="s" d="M717.3 1732.4 L745.5 1732.4 M717.3 1812.2 L745.5 1812.2"/>
<rect class="sw" x="711.5" y="1730.8" width="5.8" height="83" rx="1.6"/>
<rect class="sw" x="745.8" y="1730.8" width="5.8" height="83" rx="1.6"/>
<path class="s" d="M751.6 1734.6 L755 1734.6 Q756.4 1734.6 756.4 1736 L756.4 1808.4 Q756.4 1809.8 755 1809.8 L751.6 1809.8"/>
<path class="s" d="M751.6 1746.6 L756.4 1746.6 M751.6 1796 L756.4 1796"/>
<path class="s" d="M756.4 1752.4 L760 1752.4 M756.4 1791.2 L760 1791.2" style="stroke-width:1.2"/>
<rect x="760" y="1748.6" width="4.4" height="47.6" rx="0.8" style="fill:#8c8c8c;stroke:#0d0d0d;stroke-width:1.5"/>
<path class="sw" d="M774.76 1755.97 C774.83 1755.04 775.73 1750.74 775.23 1748.95 C774.73 1747.15 771.74 1743.92 771.02 1742.51 C770.3 1741.11 769.69 1739.46 769.85 1738.41 C770 1737.37 771.17 1735.32 772.19 1734.67 C773.2 1734.01 776.05 1733.5 777.46 1733.5 C778.86 1733.5 781.71 1734.01 782.73 1734.67 C783.74 1735.32 784.91 1737.37 785.07 1738.41 C785.22 1739.46 784.4 1741.11 783.9 1742.51 C783.4 1743.92 781.57 1747.15 781.32 1748.95 C781.07 1750.74 781.93 1755.04 782.02 1755.97" style="stroke-width:2.2"/>
<path class="sw" d="M774.76 1788.43 C774.83 1789.36 775.73 1793.66 775.23 1795.45 C774.73 1797.25 771.74 1800.48 771.02 1801.89 C770.3 1803.29 769.69 1804.94 769.85 1805.99 C770 1807.03 771.17 1809.08 772.19 1809.73 C773.2 1810.39 776.05 1810.9 777.46 1810.9 C778.86 1810.9 781.71 1810.39 782.73 1809.73 C783.74 1809.08 784.91 1807.03 785.07 1805.99 C785.22 1804.94 784.4 1803.29 783.9 1801.89 C783.4 1800.48 781.57 1797.25 781.32 1795.45 C781.07 1793.66 781.93 1789.36 782.02 1788.43" style="stroke-width:2.2"/>
<path class="sw" d="M764.6 1755.6 L789.7 1755.6 L789.7 1788.8 L764.6 1788.8Z"/>
<path class="s" d="M789.7 1756.2 Q797.6 1772.2 789.7 1788.2" style="stroke-width:2.6"/>
<rect x="770.6" y="1767.3" width="13" height="9.6" rx="2.2" style="fill:#fff;stroke:#0d0d0d;stroke-width:2.8"/>
<path class="s" d="M774.4 1768.4 L774.4 1776 M777 1768.4 L777 1776 M779.8 1768.4 L779.8 1776" style="stroke-width:1.1"/>
<path class="s" d="M668 1757.5 A18.1 18.1 0 1 1 668 1786.1"/>
<path class="s" d="M654.5 1760.1 L674.3 1760.1 A13.5 13.5 0 1 1 674.3 1785.2 L654.5 1785.2"/>
<rect class="sw" x="648.1" y="1760.1" width="6.4" height="25.1"/>
<path class="sw" d="M639.2 1756.8 L644.6 1756.8 Q645.6 1756.8 646.25 1757.56 L646.85 1758.24 Q647.5 1759 647.5 1760 L647.5 1785 Q647.5 1786 646.85 1786.76 L646.25 1787.44 Q645.6 1788.2 644.6 1788.2 L639.2 1788.2"/>
<path class="s" d="M639.2 1764.8 L647.5 1764.8 M639.2 1779 L647.5 1779"/>
<path class="s" d="M636.4 1759.4 L639.2 1759.4 M636.4 1785.6 L639.2 1785.6" style="stroke-width:1.2"/>
</g>
<path class="u" d="M671.3 1551 L671.3 1616"/>
<path class="u" d="M733.7 1551 L733.7 1568.2"/>
<path class="u" d="M671.3 1551 L686.5 1551"/>
<path class="u" d="M718.5 1551 L733.7 1551"/>
<path class="a" d="M671.3 1551 L680.9 1549.5 L680.9 1552.5Z"/>
<path class="a" d="M733.7 1551 L724.1 1552.5 L724.1 1549.5Z"/>
<text font-size="16.57" text-anchor="middle" stroke="#0d0d0d" stroke-width="0.23" transform="translate(702.8 1551.4) scale(0.97 1)" x="0" y="5.98">41.5</text>
<path class="u" d="M642.2 1593.7 L642.2 1655.6"/>
<path class="u" d="M642.2 1593.7 L676 1593.7"/>
<path class="a" d="M642.2 1593.7 L647.6 1592.6 L647.6 1594.8Z"/>
<path class="a" d="M671.3 1593.7 L665.9 1594.8 L665.9 1592.6Z"/>
<text font-size="16.57" text-anchor="middle" stroke="#0d0d0d" stroke-width="0.23" transform="translate(692.8 1594.2) scale(0.97 1)" x="0" y="5.98">24.5</text>
<path class="u" d="M604.3 1678.6 L639.4 1678.6"/>
<path class="u" d="M604.3 1866.2 L639.4 1866.2"/>
<path class="u" d="M604.3 1678.6 L604.3 1758"/>
<path class="u" d="M604.3 1787 L604.3 1866.2"/>
<path class="a" d="M604.3 1678.6 L605.4 1684 L603.2 1684Z"/>
<path class="a" d="M604.3 1866.2 L603.2 1860.8 L605.4 1860.8Z"/>
<text font-size="16.57" text-anchor="middle" stroke="#0d0d0d" stroke-width="0.23" transform="translate(604.6 1772.4) rotate(-90) scale(0.97 1)" x="0" y="5.98">160</text>
<path class="u" d="M752.2 1731 L844.6 1731"/>
<path class="u" d="M752.2 1813.8 L844.6 1813.8"/>
<path class="u" d="M786 1733.2 L819.2 1733.2"/>
<path class="u" d="M786 1811 L819.2 1811"/>
<path class="u" d="M819 1733.2 L819 1761"/>
<path class="u" d="M819 1784 L819 1811"/>
<path class="u" d="M844.3 1731 L844.3 1761"/>
<path class="u" d="M844.3 1784 L844.3 1813.8"/>
<path class="a" d="M819 1733.2 L820.1 1738.6 L817.9 1738.6Z"/>
<path class="a" d="M819 1811 L817.9 1805.6 L820.1 1805.6Z"/>
<path class="a" d="M844.3 1731 L845.4 1736.4 L843.2 1736.4Z"/>
<path class="a" d="M844.3 1813.8 L843.2 1808.4 L845.4 1808.4Z"/>
<text font-size="16.57" text-anchor="middle" stroke="#0d0d0d" stroke-width="0.23" transform="translate(819.2 1772.4) rotate(-90) scale(0.97 1)" x="0" y="5.98">65</text>
<text font-size="16.57" text-anchor="middle" stroke="#0d0d0d" stroke-width="0.23" transform="translate(844.6 1772.4) rotate(-90) scale(0.97 1)" x="0" y="5.98">68</text>
<g id="vplan">
<path class="s" d="M333.41 2104.66 L333.41 2134.48 Q333.41 2145.48 344.41 2145.48 L376.24 2145.48 M359.29 2104.66 L359.29 2111.71 Q359.29 2116.21 363.79 2116.21 L376.24 2116.21"/>
<path class="sw" d="M333.91 2099.27 L358.18 2099.27 Q358.98 2099.27 358.98 2100.07 L358.98 2104.01 Q358.98 2104.81 358.18 2104.81 L333.91 2104.81 Q333.11 2104.81 333.11 2104.01 L333.11 2100.07 Q333.11 2099.27 333.91 2099.27 Z"/>
<path class="s" d="M333.11 2102.04 L358.98 2102.04" style="stroke-width:2.4"/>
<path class="sw" d="M331.53 2084.17 L360.4 2084.17 Q361.6 2084.17 361.6 2085.37 L361.6 2094.99 Q361.6 2096.19 360.85 2097.12 L360.36 2097.72 Q359.6 2098.65 358.4 2098.65 L333.54 2098.65 Q332.34 2098.65 331.58 2097.72 L331.09 2097.12 Q330.33 2096.19 330.33 2094.99 L330.33 2085.37 Q330.33 2084.17 331.53 2084.17 Z"/>
<path class="s" d="M337.42 2085.4 L337.42 2098.03M341.27 2085.4 L341.27 2098.03M351.9 2085.4 L351.9 2098.03M355.9 2085.4 L355.9 2098.03"/>
<path class="sw" d="M319.07 2082.78 L372.55 2082.78 Q373.15 2082.78 373.15 2083.38 L373.15 2086.04 Q373.15 2086.64 372.55 2086.64 L319.07 2086.64 Q318.47 2086.64 318.47 2086.04 L318.47 2083.38 Q318.47 2082.78 319.07 2082.78 Z" style="stroke-width:2.1"/>
<path class="s" d="M332.8 2082.01 L359.6 2082.01" style="stroke-width:1.4"/>
<path class="sw" d="M394.41 2113.44 L377.04 2113.44 Q376.24 2113.44 376.24 2114.24 L376.24 2148.53 Q376.24 2149.33 377.04 2149.33 L394.41 2149.33"/>
<path class="s" d="M394.41 2088.18 L394.41 2105.51 Q394.41 2108.51 393.03 2110.97 L391.64 2113.44 M391.64 2149.33 L393.03 2151.25 Q394.41 2153.18 394.41 2156.18 L394.41 2161.19"/>
<path class="s" d="M395.03 2113.9 Q402.42 2131.61 395.03 2148.87"/>
<path class="s" d="M395.64 2166.27 L395.64 2197.85"/>
<path class="s" d="M534.79 2104.66 L534.79 2134.48 Q534.79 2145.48 523.79 2145.48 L491.96 2145.48 M508.91 2104.66 L508.91 2111.71 Q508.91 2116.21 504.41 2116.21 L491.96 2116.21"/>
<path class="sw" d="M534.29 2099.27 L510.02 2099.27 Q509.22 2099.27 509.22 2100.07 L509.22 2104.01 Q509.22 2104.81 510.02 2104.81 L534.29 2104.81 Q535.09 2104.81 535.09 2104.01 L535.09 2100.07 Q535.09 2099.27 534.29 2099.27 Z"/>
<path class="s" d="M535.09 2102.04 L509.22 2102.04" style="stroke-width:2.4"/>
<path class="sw" d="M536.67 2084.17 L507.8 2084.17 Q506.6 2084.17 506.6 2085.37 L506.6 2094.99 Q506.6 2096.19 507.35 2097.12 L507.84 2097.72 Q508.6 2098.65 509.8 2098.65 L534.66 2098.65 Q535.86 2098.65 536.62 2097.72 L537.11 2097.12 Q537.87 2096.19 537.87 2094.99 L537.87 2085.37 Q537.87 2084.17 536.67 2084.17 Z"/>
<path class="s" d="M530.78 2085.4 L530.78 2098.03M526.93 2085.4 L526.93 2098.03M516.3 2085.4 L516.3 2098.03M512.3 2085.4 L512.3 2098.03"/>
<path class="sw" d="M549.13 2082.78 L495.65 2082.78 Q495.05 2082.78 495.05 2083.38 L495.05 2086.04 Q495.05 2086.64 495.65 2086.64 L549.13 2086.64 Q549.73 2086.64 549.73 2086.04 L549.73 2083.38 Q549.73 2082.78 549.13 2082.78 Z" style="stroke-width:2.1"/>
<path class="s" d="M535.4 2082.01 L508.6 2082.01" style="stroke-width:1.4"/>
<path class="sw" d="M473.79 2113.44 L491.16 2113.44 Q491.96 2113.44 491.96 2114.24 L491.96 2148.53 Q491.96 2149.33 491.16 2149.33 L473.79 2149.33"/>
<path class="s" d="M473.79 2088.18 L473.79 2105.51 Q473.79 2108.51 475.17 2110.97 L476.56 2113.44 M476.56 2149.33 L475.17 2151.25 Q473.79 2153.18 473.79 2156.18 L473.79 2161.19"/>
<path class="s" d="M473.17 2113.9 Q465.78 2131.61 473.17 2148.87"/>
<path class="s" d="M472.56 2166.27 L472.56 2197.85"/>
<path class="sw" d="M383.3 2083.25 L485.77 2083.25 Q486.37 2083.25 486.37 2083.85 L486.37 2087.42 Q486.37 2088.02 485.77 2088.02 L383.3 2088.02 Q382.7 2088.02 382.7 2087.42 L382.7 2083.85 Q382.7 2083.25 383.3 2083.25 Z" style="stroke-width:2.1"/>
<path class="sw" d="M394.18 2161.19 L474.74 2161.19 Q475.74 2161.19 475.74 2162.19 L475.74 2165.27 Q475.74 2166.27 474.74 2166.27 L394.18 2166.27 Q393.18 2166.27 393.18 2165.27 L393.18 2162.19 Q393.18 2161.19 394.18 2161.19 Z"/>
<path class="sw" d="M394.18 2197.85 L474.74 2197.85 Q475.74 2197.85 475.74 2198.85 L475.74 2201.47 Q475.74 2202.47 474.74 2202.47 L394.18 2202.47 Q393.18 2202.47 393.18 2201.47 L393.18 2198.85 Q393.18 2197.85 394.18 2197.85 Z"/>
<path class="sw" d="M416.24 2090.33 L452.06 2090.33 Q455.56 2090.33 455.56 2093.83 L455.56 2149.68 Q455.56 2153.18 452.06 2153.18 L416.24 2153.18 Q412.74 2153.18 412.74 2149.68 L412.74 2093.83 Q412.74 2090.33 416.24 2090.33 Z"/>
<path class="sw" d="M436.63 2101.64 L449.85 2108.91 Q452.48 2110.36 452.48 2113.36 L452.48 2126.3 Q452.48 2129.3 449.82 2130.68 L436.66 2137.48 Q434 2138.85 431.34 2137.46 L418.48 2130.7 Q415.82 2129.3 415.82 2126.3 L415.82 2113.36 Q415.82 2110.36 418.44 2108.89 L431.38 2101.66 Q434 2100.19 436.63 2101.64 Z" style="stroke-width:2.1"/>
<circle class="s" cx="434.1" cy="2119.4" r="12.9"/>
<circle class="s" cx="434.1" cy="2119.4" r="10.6"/>
<path class="sw" d="M411.43 2153.33 L456.87 2153.33 Q457.87 2153.33 457.87 2154.33 L457.87 2155.72 Q457.87 2156.72 456.87 2156.72 L411.43 2156.72 Q410.43 2156.72 410.43 2155.72 L410.43 2154.33 Q410.43 2153.33 411.43 2153.33 Z"/>
<path class="sw" d="M418.36 2157.03 L449.94 2157.03 Q450.94 2157.03 450.94 2158.03 L450.94 2178.37 Q450.94 2179.37 449.94 2179.41 L445.01 2179.63 Q444.01 2179.67 443.06 2179.97 L434.95 2182.46 Q434 2182.75 433.05 2182.45 L425.25 2179.98 Q424.29 2179.67 423.3 2179.63 L418.36 2179.41 Q417.36 2179.37 417.36 2178.37 L417.36 2158.03 Q417.36 2157.03 418.36 2157.03 Z"/>
<circle class="sw" cx="434.1" cy="2168.6" r="12.2"/>
<circle class="s" cx="434.1" cy="2168.6" r="9.2"/>
<path class="sw" d="M411.8 2202.78 L456.5 2202.78 Q457.1 2202.78 457.1 2203.38 L457.1 2207.26 Q457.1 2207.86 456.5 2207.86 L411.8 2207.86 Q411.2 2207.86 411.2 2207.26 L411.2 2203.38 Q411.2 2202.78 411.8 2202.78 Z"/>
<path class="sw" d="M414.88 2207.86 L453.42 2207.86 Q454.02 2207.86 454.02 2208.46 L454.02 2211.11 Q454.02 2211.71 453.42 2211.71 L414.88 2211.71 Q414.28 2211.71 414.28 2211.11 L414.28 2208.46 Q414.28 2207.86 414.88 2207.86 Z"/>
<path class="sw" d="M411.12 2211.71 L457.18 2211.71 Q458.18 2211.71 458.18 2212.71 L458.18 2214.56 Q458.18 2215.56 457.18 2215.56 L411.12 2215.56 Q410.12 2215.56 410.12 2214.56 L410.12 2212.71 Q410.12 2211.71 411.12 2211.71 Z"/>
<path class="sw" d="M417.83 2225.58 C416.9 2225.62 412.74 2226.25 410.89 2225.88 C409.04 2225.51 405.5 2223.36 403.96 2222.8 C402.42 2222.25 400.37 2221.46 399.34 2221.73 C398.31 2221.99 396.75 2223.78 396.26 2224.81 C395.77 2225.83 395.6 2228.13 395.64 2229.43 C395.68 2230.72 395.97 2233.48 396.57 2234.51 C397.16 2235.54 399.02 2236.92 400.11 2237.13 C401.2 2237.33 403.29 2236.77 404.73 2236.05 C406.17 2235.33 409.15 2232.35 410.89 2231.74 C412.64 2231.12 416.9 2231.47 417.83 2231.43" style="stroke-width:2.2"/>
<path class="sw" d="M450.37 2225.58 C451.3 2225.62 455.46 2226.25 457.31 2225.88 C459.16 2225.51 462.7 2223.36 464.24 2222.8 C465.78 2222.25 467.83 2221.46 468.86 2221.73 C469.89 2221.99 471.45 2223.78 471.94 2224.81 C472.43 2225.83 472.6 2228.13 472.56 2229.43 C472.52 2230.72 472.23 2233.48 471.63 2234.51 C471.04 2235.54 469.18 2236.92 468.09 2237.13 C467 2237.33 464.91 2236.77 463.47 2236.05 C462.03 2235.33 459.05 2232.35 457.31 2231.74 C455.56 2231.12 451.3 2231.47 450.37 2231.43" style="stroke-width:2.2"/>
<path class="sw" d="M417.83 2215.56 L450.94 2215.56 L450.94 2237.13 Q449.4 2242.21 434 2243.75 Q418.6 2242.21 417.83 2237.13 L417.83 2215.56 Z"/>
<path class="s" d="M419.67 2238.21 L448.94 2238.21"/>
<path class="s" d="M428.92 2237.13 L428.92 2224.73 Q428.92 2221.73 431.92 2221.73 L436.39 2221.73 Q439.39 2221.73 439.39 2224.73 L439.39 2237.13" style="stroke-width:2.4"/>
<path class="s" d="M432.46 2221.73 L432.46 2237.13M436 2221.73 L436 2237.13" style="stroke-width:1.2"/>
</g>
<path class="u" d="M319.4 1997.5 L419.67 1997.5"/>
<path class="u" d="M448.93 1997.5 L549.4 1997.5"/>
<path class="a" d="M319.4 1997.5 L329 1996 L329 1999Z"/>
<path class="a" d="M549.4 1997.5 L539.8 1999 L539.8 1996Z"/>
<text font-size="16.57" text-anchor="middle" stroke="#0d0d0d" stroke-width="0.23" transform="translate(434.3 1998.1) scale(0.97 1)" x="0" y="5.98">192</text>
<path class="u" d="M345.4 2019.4 L419.67 2019.4"/>
<path class="u" d="M448.93 2019.4 L522.6 2019.4"/>
<path class="a" d="M345.4 2019.4 L351 2018.4 L351 2020.4Z"/>
<path class="a" d="M522.6 2019.4 L517 2020.4 L517 2018.4Z"/>
<text font-size="16.57" text-anchor="middle" stroke="#0d0d0d" stroke-width="0.23" transform="translate(434.3 2020) scale(0.97 1)" x="0" y="5.98">147</text>
<path class="u" d="M376.3 2040.7 L424.15 2040.7"/>
<path class="u" d="M444.45 2040.7 L492.4 2040.7"/>
<path class="a" d="M376.3 2040.7 L381.9 2039.7 L381.9 2041.7Z"/>
<path class="a" d="M492.4 2040.7 L486.8 2041.7 L486.8 2039.7Z"/>
<text font-size="16.57" text-anchor="middle" stroke="#0d0d0d" stroke-width="0.23" transform="translate(434.3 2041.3) scale(0.97 1)" x="0" y="5.98">96</text>
<path class="u" d="M382 2061.7 L424.15 2061.7"/>
<path class="u" d="M444.45 2061.7 L485.8 2061.7"/>
<path class="a" d="M382 2061.7 L387.6 2060.7 L387.6 2062.7Z"/>
<path class="a" d="M485.8 2061.7 L480.2 2062.7 L480.2 2060.7Z"/>
<text font-size="16.57" text-anchor="middle" stroke="#0d0d0d" stroke-width="0.23" transform="translate(434.3 2062.3) scale(0.97 1)" x="0" y="5.98">87</text>
<path class="u" d="M319.4 2061.7 L336.05 2061.7"/>
<path class="u" d="M356.35 2061.7 L372.8 2061.7"/>
<path class="a" d="M319.4 2061.7 L325 2060.7 L325 2062.7Z"/>
<path class="a" d="M372.8 2061.7 L367.2 2062.7 L367.2 2060.7Z"/>
<text font-size="16.57" text-anchor="middle" stroke="#0d0d0d" stroke-width="0.23" transform="translate(346.2 2062.3) scale(0.97 1)" x="0" y="5.98">45</text>
<path class="u" d="M495.4 2061.7 L512.65 2061.7"/>
<path class="u" d="M532.95 2061.7 L549.4 2061.7"/>
<path class="a" d="M495.4 2061.7 L501 2060.7 L501 2062.7Z"/>
<path class="a" d="M549.4 2061.7 L543.8 2062.7 L543.8 2060.7Z"/>
<text font-size="16.57" text-anchor="middle" stroke="#0d0d0d" stroke-width="0.23" transform="translate(522.8 2062.3) scale(0.97 1)" x="0" y="5.98">45</text>
<path class="u" d="M319.4 1997.5 L319.4 2082 M549.4 1997.5 L549.4 2082 M345.4 2019.4 L345.4 2054.4 M522.6 2019.4 L522.6 2054.4 M376.3 2040.7 L376.3 2113 M492.4 2040.7 L492.4 2113 M382 2061.7 L382 2082 M485.8 2061.7 L485.8 2082 M372.8 2061.7 L372.8 2082 M495.4 2061.7 L495.4 2082"/>
<path class="u" d="M296.4 2082.6 L319 2082.6 M296.4 2130.8 L334 2130.8"/>
<path class="u" d="M296.4 2082.6 L296.4 2096.45"/>
<path class="u" d="M296.4 2116.75 L296.4 2130.8"/>
<path class="a" d="M296.4 2082.6 L297.4 2088.2 L295.4 2088.2Z"/>
<path class="a" d="M296.4 2130.8 L295.4 2125.2 L297.4 2125.2Z"/>
<text font-size="16.57" text-anchor="middle" stroke="#0d0d0d" stroke-width="0.23" transform="translate(296.8 2106.6) rotate(-90) scale(0.97 1)" x="0" y="5.98">40</text>
<path class="u" d="M550.6 2082.6 L616.6 2082.6 M474 2159.2 L573 2159.2 M476 2201.4 L595.2 2201.4 M452 2244 L616.6 2244"/>
<path class="u" d="M572.8 2082.6 L572.8 2110.85"/>
<path class="u" d="M572.8 2131.15 L572.8 2159.2"/>
<path class="a" d="M572.8 2082.6 L573.8 2088.2 L571.8 2088.2Z"/>
<path class="a" d="M572.8 2159.2 L571.8 2153.6 L573.8 2153.6Z"/>
<text font-size="16.57" text-anchor="middle" stroke="#0d0d0d" stroke-width="0.23" transform="translate(573.2 2121) rotate(-90) scale(0.97 1)" x="0" y="5.98">65</text>
<path class="u" d="M595 2082.6 L595 2132.85"/>
<path class="u" d="M595 2153.15 L595 2201.4"/>
<path class="a" d="M595 2082.6 L596 2088.2 L594 2088.2Z"/>
<path class="a" d="M595 2201.4 L594 2195.8 L596 2195.8Z"/>
<text font-size="16.57" text-anchor="middle" stroke="#0d0d0d" stroke-width="0.23" transform="translate(595.4 2143) rotate(-90) scale(0.97 1)" x="0" y="5.98">99</text>
<path class="u" d="M616.4 2082.6 L616.4 2149.57"/>
<path class="u" d="M616.4 2178.83 L616.4 2244"/>
<path class="a" d="M616.4 2082.6 L617.9 2092.2 L614.9 2092.2Z"/>
<path class="a" d="M616.4 2244 L614.9 2234.4 L617.9 2234.4Z"/>
<text font-size="16.57" text-anchor="middle" stroke="#0d0d0d" stroke-width="0.23" transform="translate(616.8 2164.2) rotate(-90) scale(0.97 1)" x="0" y="5.98">136</text>
<path class="u" d="M376 2201.4 L393 2201.4 M376 2244 L417 2244"/>
<path class="u" d="M376 2201.4 L376 2212.25"/>
<path class="u" d="M376 2232.55 L376 2244"/>
<path class="a" d="M376 2201.4 L377 2207 L375 2207Z"/>
<path class="a" d="M376 2244 L375 2238.4 L377 2238.4Z"/>
<text font-size="16.57" text-anchor="middle" stroke="#0d0d0d" stroke-width="0.23" transform="translate(376.4 2222.4) rotate(-90) scale(0.97 1)" x="0" y="5.98">35</text>
<path class="u" d="M474 2228.4 L492 2228.4 M491.8 2201.4 L491.8 2228.4 M491.8 2244 L491.8 2232"/>
<path class="a" d="M491.8 2228.4 L490.8 2222.8 L492.8 2222.8Z"/>
<path class="a" d="M491.8 2244 L492.8 2249.6 L490.8 2249.6Z"/>
<text font-size="16.57" text-anchor="middle" stroke="#0d0d0d" stroke-width="0.23" transform="translate(492.2 2249.6) rotate(-90) scale(0.97 1)" x="0" y="5.98">24.5</text>
<path class="u" d="M418.2 2240 L418.2 2264 M450.1 2240 L450.1 2264 M410.9 2216 L410.9 2284 M458.6 2216 L458.6 2284"/>
<path class="u" d="M418.2 2263.6 L424.7 2263.6"/>
<path class="u" d="M443.7 2263.6 L450.1 2263.6"/>
<path class="a" d="M418.2 2263.6 L423.8 2262.6 L423.8 2264.6Z"/>
<path class="a" d="M450.1 2263.6 L444.5 2264.6 L444.5 2262.6Z"/>
<text font-size="16.57" text-anchor="middle" stroke="#0d0d0d" stroke-width="0.23" transform="translate(434.2 2264.2) scale(0.97 1)" x="0" y="5.98">28</text>
<path class="u" d="M410.9 2283.6 L424.7 2283.6"/>
<path class="u" d="M443.7 2283.6 L458.6 2283.6"/>
<path class="a" d="M410.9 2283.6 L416.5 2282.6 L416.5 2284.6Z"/>
<path class="a" d="M458.6 2283.6 L453 2284.6 L453 2282.6Z"/>
<text font-size="16.57" text-anchor="middle" stroke="#0d0d0d" stroke-width="0.23" transform="translate(434.2 2284.2) scale(0.97 1)" x="0" y="5.98">40</text>
<g id="spout">
<path class="k" d="M1167.06 1781.92 C1167.09 1785.47 1167.09 1795.02 1167.25 1803.18 C1167.4 1811.34 1168.23 1823.82 1167.99 1830.91 C1167.74 1837.99 1167.46 1841.38 1165.77 1845.69 C1164.07 1850.01 1161.67 1853.76 1157.82 1856.78 C1153.97 1859.8 1153.81 1860.42 1142.66 1863.81 C1131.51 1867.2 1107.85 1872.74 1090.91 1877.12 C1073.96 1881.49 1051.78 1886.67 1041 1890.06 C1030.22 1893.44 1030.52 1894.06 1026.21 1897.45 C1021.9 1900.84 1018.2 1905.77 1015.12 1910.39 C1012.04 1915.01 1009.73 1920.55 1007.73 1925.18 C1005.72 1929.8 1004.43 1934.97 1003.11 1938.11 C1001.78 1941.26 1000.33 1943.04 999.78 1944.03" style="stroke-width:5.4;stroke:#141414;stroke-linecap:butt"/>
<path class="k" d="M1167.06 1781.92 C1167.09 1785.47 1167.09 1795.02 1167.25 1803.18 C1167.4 1811.34 1168.23 1823.82 1167.99 1830.91 C1167.74 1837.99 1167.46 1841.38 1165.77 1845.69 C1164.07 1850.01 1161.67 1853.76 1157.82 1856.78 C1153.97 1859.8 1153.81 1860.42 1142.66 1863.81 C1131.51 1867.2 1107.85 1872.74 1090.91 1877.12 C1073.96 1881.49 1051.78 1886.67 1041 1890.06 C1030.22 1893.44 1030.52 1894.06 1026.21 1897.45 C1021.9 1900.84 1018.2 1905.77 1015.12 1910.39 C1012.04 1915.01 1009.73 1920.55 1007.73 1925.18 C1005.72 1929.8 1004.43 1934.97 1003.11 1938.11 C1001.78 1941.26 1000.33 1943.04 999.78 1944.03" style="stroke-width:1.4;stroke:#7a7a7a;stroke-dasharray:1.2 2.6;stroke-linecap:butt"/>
<path class="k" d="M1195.53 1781.92 C1195.53 1785.47 1195.62 1794.4 1195.53 1803.18 C1195.43 1811.96 1195.77 1826.28 1194.97 1834.6 C1194.17 1842.92 1193.28 1847.54 1190.72 1853.09 C1188.16 1858.63 1184.25 1863.87 1179.63 1867.87 C1175.01 1871.88 1174.7 1873.27 1162.99 1877.12 C1151.29 1880.97 1127.57 1886.36 1109.39 1890.98 C1091.21 1895.6 1065.34 1901.61 1053.94 1904.84 C1042.54 1908.08 1044.54 1907.62 1041 1910.39 C1037.46 1913.16 1034.74 1917.47 1032.68 1921.48 C1030.62 1925.48 1029.41 1930.66 1028.61 1934.42 C1027.81 1938.18 1028 1942.43 1027.87 1944.03" style="stroke-width:5.4;stroke:#141414;stroke-linecap:butt"/>
<path class="k" d="M1195.53 1781.92 C1195.53 1785.47 1195.62 1794.4 1195.53 1803.18 C1195.43 1811.96 1195.77 1826.28 1194.97 1834.6 C1194.17 1842.92 1193.28 1847.54 1190.72 1853.09 C1188.16 1858.63 1184.25 1863.87 1179.63 1867.87 C1175.01 1871.88 1174.7 1873.27 1162.99 1877.12 C1151.29 1880.97 1127.57 1886.36 1109.39 1890.98 C1091.21 1895.6 1065.34 1901.61 1053.94 1904.84 C1042.54 1908.08 1044.54 1907.62 1041 1910.39 C1037.46 1913.16 1034.74 1917.47 1032.68 1921.48 C1030.62 1925.48 1029.41 1930.66 1028.61 1934.42 C1027.81 1938.18 1028 1942.43 1027.87 1944.03" style="stroke-width:1.4;stroke:#7a7a7a;stroke-dasharray:1.2 2.6;stroke-linecap:butt"/>
<path class="k" d="M1164.4 1780.6 L1198.8 1780.6" style="stroke-width:3;stroke-linecap:butt"/>
<path class="s" d="M1170.6 1800.4 L1192.4 1800.4" style="stroke-width:1.6"/>
<path class="k" d="M997.74 1944.77 L1032.5 1944.77" style="stroke-width:2.6"/>
<path class="k" d="M1201 1780.6 L1268.4 1780.6" style="stroke-width:2.1"/>
<rect x="1202.9" y="1785.9" width="5.6" height="5.4" rx="0.8" style="fill:#fff;stroke:#0d0d0d;stroke-width:2.2"/>
<rect class="w" x="1193.8" y="1787.8" width="3.6" height="2.2"/>
<path class="s" d="M1083.51 1849.39 L1094.05 1889.13" style="stroke-width:1.2"/>
<text font-size="7.6" font-weight="bold" text-anchor="middle" transform="translate(1091.46 1858.26) rotate(75)" x="0" y="0">2.5</text>
<path class="s" d="M1012.9 1997.6 L1174.2 2005.8 M1012.9 2044.3 L1174.2 2036.1 M1012.9 1997.6 C1002.6 1997.8 997.4 2009 997.4 2021.2 C997.4 2033.2 1002.6 2044.3 1012.9 2044.3"/>
<circle class="sw" cx="1181.7" cy="2021.2" r="17.3"/>
<circle class="s" style="stroke-width:2.6" cx="1181.7" cy="2021.2" r="11.6"/>
<path class="s" d="M1313.75 1781.4 Q1313.75 1779.4 1315.75 1779.4 L1345.05 1779.4 Q1347.05 1779.4 1347.05 1781.4"/>
<path class="s" d="M1313.75 1781.32 C1313.89 1786.74 1314.21 1802.11 1314.57 1813.85 C1314.93 1825.6 1316.01 1839.15 1315.92 1851.8 C1315.83 1864.45 1314.79 1878.46 1314.03 1889.75 C1313.26 1901.05 1312.13 1910.99 1311.31 1919.57 C1310.5 1928.16 1309.51 1937.64 1309.15 1941.26 M1347.05 1781.32 C1346.91 1786.74 1346.59 1802.11 1346.23 1813.85 C1345.87 1825.6 1344.79 1839.15 1344.88 1851.8 C1344.97 1864.45 1346.01 1878.46 1346.77 1889.75 C1347.54 1901.05 1348.67 1910.99 1349.49 1919.57 C1350.3 1928.16 1351.29 1937.64 1351.65 1941.26"/>
<path class="k" d="M1308.06 1942.07 L1353.06 1942.07" style="stroke-width:3"/>
<path class="s" d="M1318.9 1857.22 Q1330.56 1842.04 1342.49 1857.22"/>
<path class="s" d="M1315.11 1902.22 Q1330.56 1881.62 1345.74 1902.22"/>
</g>
<path class="u" d="M1164.5 1738.5 L1164.5 1780 M1198.5 1738.5 L1198.5 1780 M1144.5 1738.5 L1164.5 1738.5 M1198.5 1738.5 L1217.5 1738.5"/>
<path class="a" d="M1164.5 1738.5 L1154.9 1740 L1154.9 1737Z"/>
<path class="a" d="M1198.5 1738.5 L1208.1 1737 L1208.1 1740Z"/>
<text font-size="17.31" text-anchor="middle" stroke="#0d0d0d" stroke-width="0.24" transform="translate(1181.6 1739.6) scale(0.97 1)" x="0" y="6.25">35</text>
<path class="u" d="M1168.2 1760.3 L1168.2 1780 M1194.4 1760.3 L1194.4 1780 M1158.4 1760.3 L1194.4 1760.3"/>
<path class="a" d="M1168.2 1760.3 L1177.8 1758.8 L1177.8 1761.8Z"/>
<path class="a" d="M1194.4 1760.3 L1184.8 1761.8 L1184.8 1758.8Z"/>
<text font-size="17.31" text-anchor="middle" stroke="#0d0d0d" stroke-width="0.24" transform="translate(1136.4 1760.2) scale(0.97 1)" x="0" y="6.25">G3/4&quot;</text>
<path class="u" d="M1199 1800.4 L1243 1800.4 M1244.3 1761.6 L1244.3 1780.6 M1244.3 1800.4 L1244.3 1820.6"/>
<path class="a" d="M1244.3 1780.6 L1242.8 1771 L1245.8 1771Z"/>
<path class="a" d="M1244.3 1800.4 L1245.8 1810 L1242.8 1810Z"/>
<text font-size="17.31" text-anchor="middle" stroke="#0d0d0d" stroke-width="0.24" transform="translate(1244.6 1752.2) rotate(-90) scale(0.97 1)" x="0" y="6.25">20</text>
<path class="u" d="M1210 1788.6 L1223 1788.6 M1222.7 1772 L1222.7 1780.6 M1222.7 1788.6 L1222.7 1798"/>
<path class="a" d="M1222.7 1780.6 L1221.8 1776 L1223.6 1776Z"/>
<path class="a" d="M1222.7 1788.6 L1223.6 1793.2 L1221.8 1793.2Z"/>
<text font-size="17.31" text-anchor="middle" stroke="#0d0d0d" stroke-width="0.24" transform="translate(1223 1765.4) rotate(-90) scale(0.97 1)" x="0" y="6.25">8</text>
<path class="u" d="M1032.7 1945.1 L1268.7 1945.1"/>
<path class="u" d="M1268.7 1780.6 L1268.7 1847.3"/>
<path class="u" d="M1268.7 1879.3 L1268.7 1945.1"/>
<path class="a" d="M1268.7 1780.6 L1270.2 1790.2 L1267.2 1790.2Z"/>
<path class="a" d="M1268.7 1945.1 L1267.2 1935.5 L1270.2 1935.5Z"/>
<text font-size="16.57" text-anchor="middle" stroke="#0d0d0d" stroke-width="0.23" transform="translate(1269.1 1863.3) rotate(-90) scale(0.97 1)" x="0" y="5.98">168</text>
<path class="u" d="M998 1946 L998 1974 M1031.3 1946 L1031.3 1974 M979 1973 L998 1973 M1031.3 1973 L1050.8 1973"/>
<path class="a" d="M998 1973 L988.4 1974.5 L988.4 1971.5Z"/>
<path class="a" d="M1031.3 1973 L1040.9 1971.5 L1040.9 1974.5Z"/>
<text font-size="17.31" text-anchor="middle" stroke="#0d0d0d" stroke-width="0.24" transform="translate(1014.4 1973.6) scale(0.97 1)" x="0" y="6.25">34</text>
<path class="u" d="M1307.8 1946 L1307.8 1974 M1353.1 1946 L1353.1 1974"/>
<path class="u" d="M1307.8 1973 L1320 1973"/>
<path class="u" d="M1341 1973 L1353.1 1973"/>
<path class="a" d="M1307.8 1973 L1317.4 1971.5 L1317.4 1974.5Z"/>
<path class="a" d="M1353.1 1973 L1343.5 1974.5 L1343.5 1971.5Z"/>
<text font-size="17.31" text-anchor="middle" stroke="#0d0d0d" stroke-width="0.24" transform="translate(1330.6 1973.6) scale(0.97 1)" x="0" y="6.25">47</text>
<path class="u" d="M1014.8 2021.2 L1014.8 2071 M1181.7 2021.2 L1181.7 2071"/>
<path class="u" d="M1014.8 2070 L1080 2070"/>
<path class="u" d="M1110 2070 L1181.7 2070"/>
<path class="a" d="M1014.8 2070 L1024.4 2068.5 L1024.4 2071.5Z"/>
<path class="a" d="M1181.7 2070 L1172.1 2071.5 L1172.1 2068.5Z"/>
<text font-size="17.31" text-anchor="middle" stroke="#0d0d0d" stroke-width="0.24" transform="translate(1094.8 2070.8) scale(0.97 1)" x="0" y="6.25">180</text>
</svg>
</body>
</html>
